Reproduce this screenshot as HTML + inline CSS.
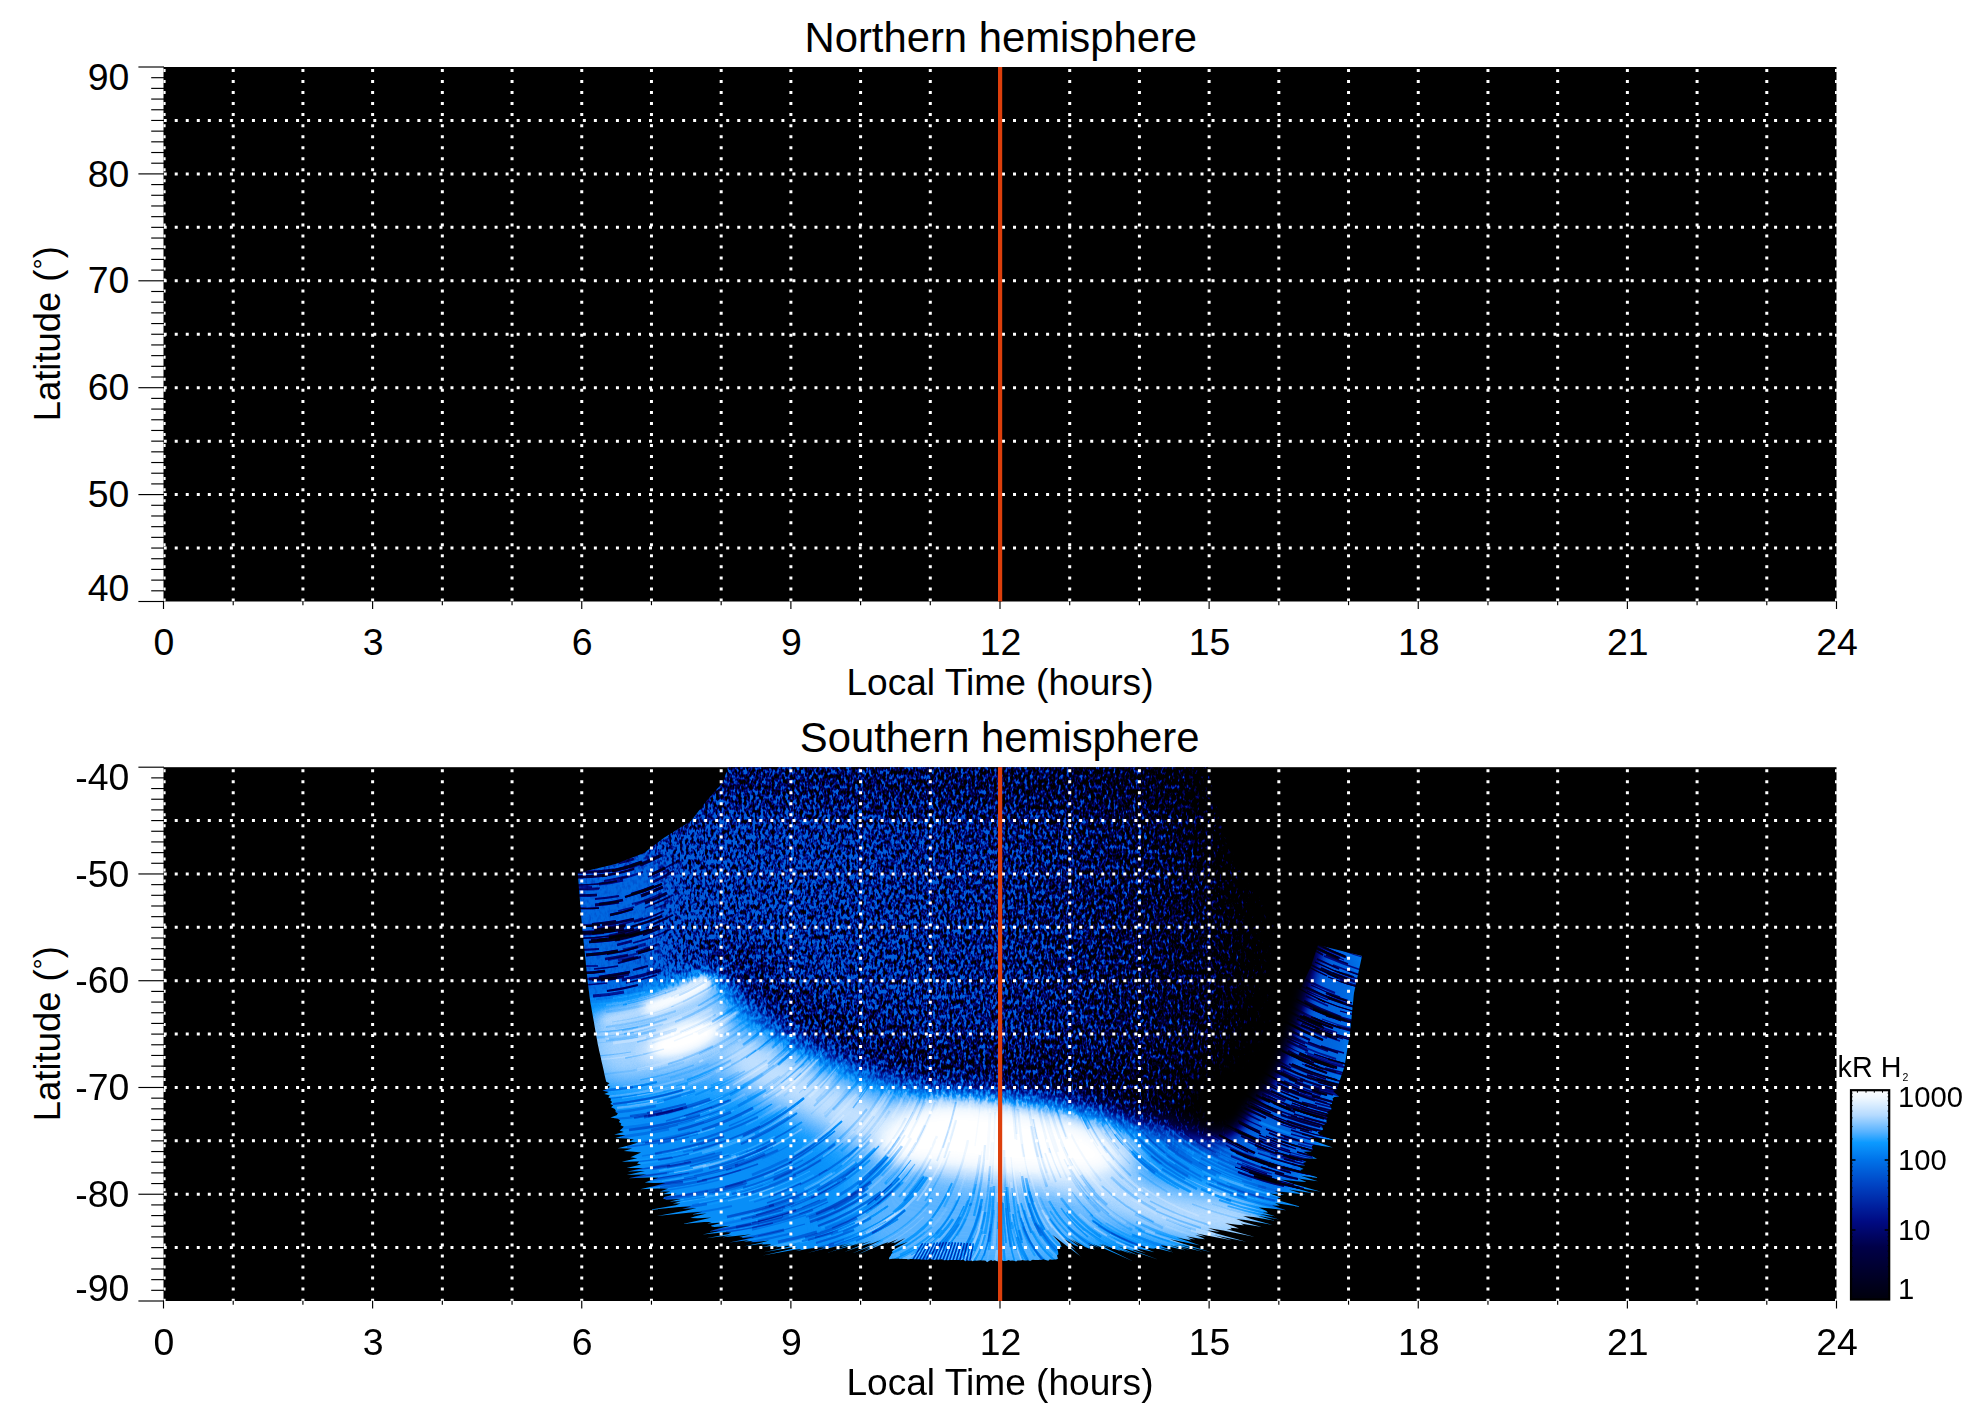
<!DOCTYPE html>
<html lang="en"><head><meta charset="utf-8"><title>Northern / Southern hemisphere</title>
<style>html,body{margin:0;padding:0;background:#fff}body{width:1983px;height:1423px;overflow:hidden}svg{display:block}text{font-family:"Liberation Sans", Arial, Helvetica, sans-serif;fill:#000}</style>
</head><body>
<svg width="1983" height="1423" viewBox="0 0 1983 1423">
<defs>
<linearGradient id="cbar" x1="0" y1="0" x2="0" y2="1">
<stop offset="0" stop-color="#ffffff"/><stop offset="0.04" stop-color="#eef7ff"/><stop offset="0.12" stop-color="#b4daff"/>
<stop offset="0.2" stop-color="#56b2ff"/><stop offset="0.25" stop-color="#0c9aff"/><stop offset="0.33" stop-color="#0074ea"/>
<stop offset="0.45" stop-color="#0044c4"/><stop offset="0.55" stop-color="#0022a0"/><stop offset="0.63" stop-color="#000a82"/>
<stop offset="0.75" stop-color="#000048"/><stop offset="1" stop-color="#00000c"/></linearGradient>
<filter id="cmap" filterUnits="userSpaceOnUse" x="560" y="760" width="820" height="520" color-interpolation-filters="sRGB">
<feComponentTransfer><feFuncR type="table" tableValues="0.000 0.000 0.000 0.000 0.000 0.000 0.000 0.000 0.000 0.000 0.000 0.000 0.000 0.000 0.000 0.000 0.000 0.000 0.000 0.000 0.000 0.000 0.000 0.000 0.000 0.000 0.000 0.000 0.000 0.000 0.000 0.000 0.000 0.000 0.006 0.018 0.029 0.041 0.105 0.221 0.337 0.429 0.522 0.614 0.706 0.763 0.820 0.876 0.933 0.967 1.000"/><feFuncG type="table" tableValues="0.000 0.000 0.000 0.000 0.000 0.000 0.000 0.000 0.000 0.000 0.000 0.000 0.000 0.003 0.010 0.016 0.023 0.029 0.036 0.051 0.075 0.098 0.122 0.147 0.173 0.200 0.227 0.253 0.282 0.314 0.345 0.376 0.408 0.439 0.474 0.511 0.548 0.585 0.623 0.660 0.698 0.737 0.776 0.816 0.855 0.883 0.912 0.940 0.969 0.984 1.000"/><feFuncB type="table" tableValues="0.000 0.023 0.045 0.068 0.090 0.113 0.136 0.158 0.181 0.203 0.226 0.248 0.271 0.301 0.339 0.377 0.415 0.453 0.491 0.525 0.554 0.583 0.613 0.642 0.670 0.698 0.726 0.755 0.781 0.806 0.831 0.856 0.880 0.905 0.928 0.949 0.969 0.990 1.000 1.000 1.000 1.000 1.000 1.000 1.000 1.000 1.000 1.000 1.000 1.000 1.000"/></feComponentTransfer>
</filter>
<filter id="speckle" filterUnits="userSpaceOnUse" x="560" y="760" width="820" height="520" color-interpolation-filters="sRGB">
<feTurbulence type="fractalNoise" baseFrequency="0.36 0.2" numOctaves="2" seed="11" result="t"/>
<feColorMatrix in="t" type="matrix" values="0 0 0 1 0  0 0 0 1 0  0 0 0 1 0  0 0 0 0 1" result="n"/>
<feComposite in="n" in2="SourceGraphic" operator="arithmetic" k1="0" k2="3.0" k3="1.6" k4="-2.22" result="thr"/>
<feComponentTransfer in="thr"><feFuncR type="linear" slope="0.625"/><feFuncG type="linear" slope="0.625"/><feFuncB type="linear" slope="0.625"/></feComponentTransfer>
</filter>
<filter id="b4" filterUnits="userSpaceOnUse" x="460" y="660" width="1020" height="720" color-interpolation-filters="sRGB"><feGaussianBlur stdDeviation="4"/></filter>
<filter id="b8" filterUnits="userSpaceOnUse" x="460" y="660" width="1020" height="720" color-interpolation-filters="sRGB"><feGaussianBlur stdDeviation="8"/></filter>
<filter id="b12" filterUnits="userSpaceOnUse" x="460" y="660" width="1020" height="720" color-interpolation-filters="sRGB"><feGaussianBlur stdDeviation="12"/></filter>
<filter id="b18" filterUnits="userSpaceOnUse" x="460" y="660" width="1020" height="720" color-interpolation-filters="sRGB"><feGaussianBlur stdDeviation="18"/></filter>
<filter id="b25" filterUnits="userSpaceOnUse" x="460" y="660" width="1020" height="720" color-interpolation-filters="sRGB"><feGaussianBlur stdDeviation="25"/></filter>
<clipPath id="fp"><path d="M577.7 873.0L615.5 864.0L644.0 853.0L664.0 837.7L691.0 821.0L704.0 804.0L723.0 782.0L728.0 767.2L1208.0 767.2L1220.0 821.0L1240.0 871.0L1257.0 893.0L1277.0 926.0L1288.0 960.0L1300.0 990.0L1311.0 966.0L1318.0 945.0L1362.0 956.0L1361.2 959.7L1360.4 963.4L1359.6 967.1L1358.8 970.8L1358.0 974.5L1357.2 978.2L1356.4 981.9L1355.6 985.6L1354.8 989.3L1354.0 993.0L1353.6 996.6L1353.3 1000.3L1352.9 1003.9L1352.5 1007.5L1352.2 1011.2L1351.8 1014.8L1351.5 1018.5L1351.1 1022.1L1350.7 1025.7L1350.4 1029.4L1350.0 1033.0L1349.4 1036.7L1348.8 1040.3L1348.2 1044.0L1347.6 1047.7L1347.0 1051.3L1346.4 1055.0L1345.8 1058.7L1345.2 1062.3L1344.6 1066.0L1343.5 1069.5L1342.3 1072.9L1341.2 1076.3L1340.0 1079.8L1338.9 1083.2L1337.8 1086.7L1336.9 1088.3L1336.6 1090.1L1333.2 1091.1L1335.5 1093.6L1339.3 1096.4L1334.4 1097.0L1332.5 1098.4L1333.2 1100.4L1331.9 1102.0L1332.1 1103.9L1329.4 1105.1L1331.0 1107.3L1331.6 1109.3L1329.8 1110.7L1327.0 1111.9L1328.7 1114.2L1325.6 1115.3L1327.5 1117.6L1326.8 1119.3L1326.4 1121.0L1326.7 1123.0L1324.6 1124.4L1321.4 1125.5L1322.7 1127.8L1322.9 1129.7L1320.9 1131.2L1317.6 1132.3L1319.1 1134.5L1335.5 1140.5L1317.3 1137.9L1308.9 1137.8L1315.4 1141.3L1332.7 1147.4L1313.6 1144.7L1311.9 1146.2L1312.2 1148.2L1313.0 1150.3L1310.8 1151.6L1303.4 1151.8L1309.3 1155.1L1317.1 1158.8L1307.9 1158.5L1301.3 1158.9L1306.5 1162.0L1303.0 1163.1L1305.1 1165.4L1296.3 1165.3L1303.6 1168.9L1300.1 1170.0L1302.2 1172.3L1319.3 1178.1L1300.8 1175.8L1317.9 1181.2L1298.4 1178.5L1306.6 1182.0L1296.0 1181.3L1280.8 1179.5L1293.6 1184.0L1321.1 1191.8L1291.2 1186.8L1314.0 1193.5L1288.8 1189.5L1305.3 1194.8L1286.4 1192.3L1274.7 1191.3L1284.0 1195.0L1269.9 1193.6L1281.0 1197.6L1277.9 1198.6L1278.0 1200.3L1301.5 1207.1L1275.0 1202.9L1280.0 1205.7L1272.0 1205.5L1286.1 1210.3L1269.0 1208.2L1258.7 1207.6L1266.0 1210.8L1268.1 1212.4L1262.9 1212.4L1275.2 1216.2L1259.7 1214.0L1279.2 1219.4L1256.6 1215.6L1274.9 1220.8L1253.4 1217.1L1243.1 1216.0L1250.3 1218.7L1272.9 1225.0L1247.1 1220.3L1236.2 1219.0L1244.0 1221.9L1261.8 1227.1L1240.6 1223.4L1244.1 1225.3L1237.1 1224.8L1225.1 1223.2L1233.7 1226.3L1239.0 1228.6L1230.2 1227.7L1231.9 1229.3L1226.8 1229.2L1254.9 1237.0L1223.3 1230.6L1208.0 1228.1L1219.9 1232.1L1207.3 1230.2L1216.4 1233.5L1246.2 1241.8L1213.0 1235.0L1232.7 1240.6L1209.5 1235.9L1196.4 1233.6L1205.9 1236.8L1195.3 1235.1L1202.3 1237.7L1205.0 1239.3L1198.8 1238.6L1186.0 1236.2L1195.2 1239.5L1188.1 1238.6L1191.7 1240.4L1176.5 1237.4L1188.2 1241.3L1200.3 1245.4L1184.6 1242.2L1169.9 1239.2L1181.0 1243.1L1211.3 1252.2L1177.5 1244.0L1202.6 1251.7L1173.7 1244.7L1190.4 1250.1L1170.0 1245.3L1185.6 1250.6L1166.2 1246.0L1160.8 1245.3L1162.4 1246.6L1172.5 1250.4L1158.7 1247.2L1173.5 1252.6L1154.9 1247.9L1154.5 1248.7L1151.1 1248.5L1136.2 1244.8L1147.3 1249.2L1154.4 1252.3L1143.6 1249.8L1136.5 1248.5L1139.8 1250.5L1146.0 1253.0L1136.2 1250.3L1133.1 1249.8L1132.5 1250.1L1159.2 1260.0L1128.9 1249.8L1117.6 1246.3L1125.2 1249.6L1140.2 1255.9L1121.6 1249.4L1132.4 1254.3L1117.9 1249.2L1121.2 1251.2L1114.3 1249.0L1100.2 1243.6L1110.7 1248.7L1098.6 1244.1L1107.0 1248.5L1133.6 1261.6L1103.4 1248.3L1093.4 1244.2L1099.7 1248.1L1087.9 1242.9L1096.1 1247.8L1088.1 1244.5L1092.4 1247.6L1094.6 1249.7L1088.8 1247.4L1090.1 1248.9L1085.2 1246.9L1071.1 1239.0L1081.6 1246.3L1067.7 1238.2L1078.0 1245.8L1078.2 1246.8L1074.4 1245.2L1064.1 1238.7L1070.8 1244.7L1075.6 1249.5L1067.2 1244.1L1080.7 1256.5L1063.6 1243.5L1052.1 1234.7L1060.0 1243.0L1061.6 1247.0L1059.0 1247.2L1057.0 1247.9L1058.0 1251.3L1058.4 1254.2L1057.0 1255.4L1058.0 1258.7L1056.0 1259.6L1054.2 1259.6L1052.5 1259.7L1050.3 1259.4L1049.0 1259.8L1048.5 1260.8L1045.5 1259.9L1043.1 1259.3L1042.0 1259.9L1040.0 1259.8L1038.5 1260.0L1036.6 1260.0L1035.0 1260.1L1032.8 1259.7L1031.5 1260.2L1030.2 1260.9L1028.0 1260.3L1026.4 1260.5L1024.5 1260.4L1022.5 1260.0L1021.0 1260.5L1019.2 1260.4L1017.5 1260.6L1016.1 1261.4L1014.0 1260.7L1012.1 1260.4L1010.5 1260.7L1008.5 1260.0L1007.0 1260.8L1005.3 1260.9L1003.5 1260.9L1001.7 1260.3L1000.0 1261.0L998.2 1261.5L996.4 1260.9L994.7 1260.3L992.8 1260.9L991.2 1260.1L989.3 1260.8L987.0 1262.3L985.7 1260.7L984.0 1260.4L982.1 1260.6L980.5 1260.2L978.5 1260.6L976.6 1260.8L974.9 1260.5L972.7 1261.2L971.4 1260.4L969.1 1261.0L967.8 1260.3L965.2 1261.3L964.2 1260.3L962.7 1259.8L960.6 1260.2L958.9 1260.1L957.0 1260.1L955.4 1259.9L953.5 1260.0L951.5 1260.1L949.9 1260.0L947.8 1260.2L946.3 1259.9L944.0 1260.2L942.7 1259.8L941.6 1259.3L939.1 1259.7L937.5 1259.6L935.5 1259.7L933.0 1260.1L932.0 1259.6L930.9 1259.1L928.4 1259.5L925.7 1260.0L924.8 1259.4L922.3 1259.8L921.2 1259.4L919.6 1259.3L917.6 1259.3L915.9 1259.3L914.1 1259.2L912.7 1259.0L910.5 1259.1L907.8 1259.5L906.9 1259.1L905.0 1259.1L903.3 1259.0L902.0 1258.8L899.7 1258.9L898.8 1258.6L896.2 1258.8L894.6 1258.7L892.6 1258.8L889.1 1259.3L889.0 1258.7L889.2 1257.4L890.8 1255.6L891.2 1254.2L892.6 1252.4L891.8 1251.6L894.4 1249.3L908.1 1241.8L896.2 1246.1L889.9 1248.2L898.0 1243.0L905.3 1238.1L894.2 1243.2L894.4 1242.3L890.4 1243.5L898.1 1238.9L886.6 1243.7L888.8 1241.9L882.8 1244.0L856.6 1255.1L879.0 1244.2L863.1 1250.4L875.2 1244.4L852.1 1253.4L871.4 1244.7L881.9 1239.8L867.6 1244.9L871.7 1242.7L863.8 1245.2L844.2 1251.9L860.0 1245.4L871.4 1240.8L856.4 1245.7L864.5 1242.4L852.9 1245.9L863.7 1241.9L849.3 1246.2L827.5 1252.8L845.8 1246.5L852.6 1243.9L842.2 1246.8L841.5 1246.6L838.7 1247.0L850.7 1243.1L835.1 1247.3L845.4 1244.0L831.6 1247.6L826.6 1248.6L828.0 1247.8L807.5 1252.9L824.5 1248.1L827.4 1247.0L820.9 1248.4L824.7 1247.1L817.4 1248.6L829.2 1245.5L813.8 1248.9L824.6 1246.1L810.3 1249.2L819.9 1246.8L806.7 1249.5L814.6 1247.5L803.2 1249.7L795.3 1251.2L799.6 1250.0L801.8 1248.9L796.0 1249.4L762.8 1255.4L792.3 1248.7L797.5 1247.0L788.7 1248.1L763.7 1252.3L785.1 1247.5L796.1 1244.7L781.5 1246.8L775.7 1247.2L777.8 1246.2L771.0 1246.8L774.2 1245.5L761.4 1247.2L770.6 1244.9L770.5 1244.3L767.0 1244.3L761.4 1244.6L763.3 1243.6L743.3 1246.5L759.7 1243.0L769.4 1240.5L756.2 1242.0L750.4 1242.2L752.8 1241.0L743.9 1241.7L749.3 1240.0L729.1 1242.6L745.9 1239.0L755.2 1236.7L742.4 1238.0L742.3 1237.2L739.0 1237.0L751.3 1234.2L735.5 1236.0L722.4 1237.3L732.1 1235.0L706.2 1238.3L728.6 1234.0L731.1 1232.5L725.1 1232.3L702.6 1234.6L721.6 1230.5L708.7 1231.4L718.1 1228.8L730.4 1225.8L714.5 1227.1L711.7 1226.4L711.0 1225.4L723.0 1222.4L707.5 1223.6L711.7 1221.9L704.0 1221.9L682.7 1223.9L700.9 1220.1L711.5 1217.4L697.8 1218.2L690.2 1218.1L694.6 1216.4L706.7 1213.5L691.5 1214.5L702.5 1211.8L688.4 1212.7L656.9 1215.9L685.2 1210.8L696.5 1208.1L682.1 1209.0L691.4 1206.5L679.0 1207.1L648.4 1210.1L675.9 1205.2L680.4 1203.5L672.8 1203.4L680.7 1201.2L669.6 1201.5L680.9 1199.0L666.5 1199.7L662.9 1198.6L664.3 1196.9L676.8 1193.8L662.0 1194.2L670.3 1191.6L659.8 1191.4L668.0 1188.8L657.6 1188.6L640.1 1189.2L655.4 1185.8L665.4 1183.1L653.2 1183.0L644.8 1182.5L650.9 1180.3L658.4 1177.8L648.7 1177.5L628.5 1178.2L646.8 1174.3L626.8 1174.9L644.9 1171.1L627.6 1171.4L643.0 1167.9L626.6 1168.1L641.1 1164.6L637.0 1163.4L639.2 1161.4L621.6 1161.7L637.3 1158.2L630.5 1157.3L635.4 1155.0L641.1 1152.6L633.7 1151.7L623.8 1151.1L632.1 1148.4L617.8 1148.2L630.4 1145.1L637.9 1142.6L628.8 1141.8L633.9 1139.5L627.1 1138.5L615.3 1138.0L625.4 1135.2L614.2 1134.6L623.8 1131.9L619.6 1130.6L622.1 1128.6L623.8 1126.7L620.5 1125.3L621.3 1123.5L618.8 1122.0L620.1 1120.2L617.7 1118.7L610.5 1117.6L616.6 1115.3L617.9 1113.5L615.5 1112.0L615.7 1110.3L614.4 1108.7L611.1 1107.3L613.2 1105.3L610.3 1103.9L612.1 1102.0L610.4 1100.5L611.0 1098.7L608.2 1097.2L609.9 1095.4L604.3 1094.1L608.8 1092.0L602.5 1090.8L607.7 1088.7L610.0 1086.8L606.9 1085.3L609.5 1083.3L606.2 1081.8L605.4 1078.4L604.6 1074.9L603.9 1071.5L603.1 1068.1L602.3 1064.6L601.5 1061.2L600.8 1057.8L600.0 1054.3L599.2 1050.9L598.5 1047.4L597.7 1044.0L597.1 1040.3L596.4 1036.7L595.8 1033.0L595.1 1029.3L594.5 1025.7L593.9 1022.0L593.2 1018.3L592.6 1014.7L591.9 1011.0L591.3 1007.3L590.6 1003.7L590.0 1000.0L589.5 996.4L589.1 992.8L588.6 989.2L588.2 985.6L587.7 982.0L587.3 978.5L587.0 975.0L586.6 971.5L586.3 968.0L585.9 964.5L585.6 961.0L585.2 957.5L584.9 954.0L584.5 950.5L584.1 947.0L583.8 943.5L583.4 940.0L583.1 936.5L582.7 933.0L582.4 929.5L582.0 926.0L581.7 922.5L581.4 918.9L581.1 915.4L580.9 911.9L580.6 908.3L580.3 904.8L580.0 901.3L579.7 897.7L579.4 894.2L579.1 890.7L578.8 887.1L578.6 883.6L578.3 880.1L578.0 876.5L577.7 873.0Z"/></clipPath>
<linearGradient id="cov" gradientUnits="userSpaceOnUse" x1="580" y1="0" x2="1300" y2="0">
<stop offset="0" stop-color="#f2f2f2"/><stop offset="0.3" stop-color="#e4e4e4"/><stop offset="0.58" stop-color="#cecece"/><stop offset="0.72" stop-color="#b2b2b2"/>
<stop offset="0.86" stop-color="#8a8a8a"/><stop offset="1" stop-color="#606060"/></linearGradient>
</defs>

<rect x="0" y="0" width="1983" height="1423" fill="#fff"/>
<text x="1000.8" y="51.5" font-size="41.8" text-anchor="middle">Northern hemisphere</text>
<text x="999.7" y="752" font-size="41.8" text-anchor="middle">Southern hemisphere</text>
<rect x="163.5" y="67.0" width="1673.0" height="534.5" fill="#000"/>
<clipPath id="cn"><rect x="163.5" y="67.0" width="1673.4" height="534.5"/></clipPath>
<g clip-path="url(#cn)" stroke="#fff" stroke-width="3" stroke-dasharray="3 8.03" fill="none">
<path d="M163.70 120.45H1838.5"/>
<path d="M163.70 173.90H1838.5"/>
<path d="M163.70 227.35H1838.5"/>
<path d="M163.70 280.80H1838.5"/>
<path d="M163.70 334.25H1838.5"/>
<path d="M163.70 387.70H1838.5"/>
<path d="M163.70 441.15H1838.5"/>
<path d="M163.70 494.60H1838.5"/>
<path d="M163.70 548.05H1838.5"/>
<path d="M164.10 69.00V603.5"/>
<path d="M233.21 69.00V603.5"/>
<path d="M302.92 69.00V603.5"/>
<path d="M372.62 69.00V603.5"/>
<path d="M442.33 69.00V603.5"/>
<path d="M512.04 69.00V603.5"/>
<path d="M581.75 69.00V603.5"/>
<path d="M651.46 69.00V603.5"/>
<path d="M721.17 69.00V603.5"/>
<path d="M790.88 69.00V603.5"/>
<path d="M860.58 69.00V603.5"/>
<path d="M930.29 69.00V603.5"/>
<path d="M1069.71 69.00V603.5"/>
<path d="M1139.42 69.00V603.5"/>
<path d="M1209.12 69.00V603.5"/>
<path d="M1278.83 69.00V603.5"/>
<path d="M1348.54 69.00V603.5"/>
<path d="M1418.25 69.00V603.5"/>
<path d="M1487.96 69.00V603.5"/>
<path d="M1557.67 69.00V603.5"/>
<path d="M1627.38 69.00V603.5"/>
<path d="M1697.08 69.00V603.5"/>
<path d="M1766.79 69.00V603.5"/>
<path d="M1836.50 69.00V603.5"/>
</g>
<rect x="998" y="67.0" width="4.2" height="534.5" fill="#dd3f0c"/>
<g stroke="#000" stroke-width="1.15" fill="none">
<path d="M138.4 67.00H164.0"/>
<path d="M151.2 77.69H164.0"/>
<path d="M151.2 88.38H164.0"/>
<path d="M151.2 99.07H164.0"/>
<path d="M151.2 109.76H164.0"/>
<path d="M151.2 120.45H164.0"/>
<path d="M151.2 131.14H164.0"/>
<path d="M151.2 141.83H164.0"/>
<path d="M151.2 152.52H164.0"/>
<path d="M151.2 163.21H164.0"/>
<path d="M138.4 173.90H164.0"/>
<path d="M151.2 184.59H164.0"/>
<path d="M151.2 195.28H164.0"/>
<path d="M151.2 205.97H164.0"/>
<path d="M151.2 216.66H164.0"/>
<path d="M151.2 227.35H164.0"/>
<path d="M151.2 238.04H164.0"/>
<path d="M151.2 248.73H164.0"/>
<path d="M151.2 259.42H164.0"/>
<path d="M151.2 270.11H164.0"/>
<path d="M138.4 280.80H164.0"/>
<path d="M151.2 291.49H164.0"/>
<path d="M151.2 302.18H164.0"/>
<path d="M151.2 312.87H164.0"/>
<path d="M151.2 323.56H164.0"/>
<path d="M151.2 334.25H164.0"/>
<path d="M151.2 344.94H164.0"/>
<path d="M151.2 355.63H164.0"/>
<path d="M151.2 366.32H164.0"/>
<path d="M151.2 377.01H164.0"/>
<path d="M138.4 387.70H164.0"/>
<path d="M151.2 398.39H164.0"/>
<path d="M151.2 409.08H164.0"/>
<path d="M151.2 419.77H164.0"/>
<path d="M151.2 430.46H164.0"/>
<path d="M151.2 441.15H164.0"/>
<path d="M151.2 451.84H164.0"/>
<path d="M151.2 462.53H164.0"/>
<path d="M151.2 473.22H164.0"/>
<path d="M151.2 483.91H164.0"/>
<path d="M138.4 494.60H164.0"/>
<path d="M151.2 505.29H164.0"/>
<path d="M151.2 515.98H164.0"/>
<path d="M151.2 526.67H164.0"/>
<path d="M151.2 537.36H164.0"/>
<path d="M151.2 548.05H164.0"/>
<path d="M151.2 558.74H164.0"/>
<path d="M151.2 569.43H164.0"/>
<path d="M151.2 580.12H164.0"/>
<path d="M151.2 590.81H164.0"/>
<path d="M138.4 601.50H164.0"/>
<path d="M163.50 601.20V609.00"/>
<path d="M233.21 601.20V605.20"/>
<path d="M302.92 601.20V605.20"/>
<path d="M372.62 601.20V609.00"/>
<path d="M442.33 601.20V605.20"/>
<path d="M512.04 601.20V605.20"/>
<path d="M581.75 601.20V609.00"/>
<path d="M651.46 601.20V605.20"/>
<path d="M721.17 601.20V605.20"/>
<path d="M790.88 601.20V609.00"/>
<path d="M860.58 601.20V605.20"/>
<path d="M930.29 601.20V605.20"/>
<path d="M1000.00 601.20V609.00"/>
<path d="M1069.71 601.20V605.20"/>
<path d="M1139.42 601.20V605.20"/>
<path d="M1209.12 601.20V609.00"/>
<path d="M1278.83 601.20V605.20"/>
<path d="M1348.54 601.20V605.20"/>
<path d="M1418.25 601.20V609.00"/>
<path d="M1487.96 601.20V605.20"/>
<path d="M1557.67 601.20V605.20"/>
<path d="M1627.38 601.20V609.00"/>
<path d="M1697.08 601.20V605.20"/>
<path d="M1766.79 601.20V605.20"/>
<path d="M1836.50 601.20V609.00"/>
</g>
<text x="129.3" y="89.50" font-size="37.4" text-anchor="end">90</text>
<text x="129.3" y="186.50" font-size="37.4" text-anchor="end">80</text>
<text x="129.3" y="293.40" font-size="37.4" text-anchor="end">70</text>
<text x="129.3" y="400.30" font-size="37.4" text-anchor="end">60</text>
<text x="129.3" y="507.20" font-size="37.4" text-anchor="end">50</text>
<text x="129.3" y="601.10" font-size="37.4" text-anchor="end">40</text>
<text x="164.00" y="654.90" font-size="37.4" text-anchor="middle">0</text>
<text x="373.12" y="654.90" font-size="37.4" text-anchor="middle">3</text>
<text x="582.25" y="654.90" font-size="37.4" text-anchor="middle">6</text>
<text x="791.38" y="654.90" font-size="37.4" text-anchor="middle">9</text>
<text x="1000.50" y="654.90" font-size="37.4" text-anchor="middle">12</text>
<text x="1209.62" y="654.90" font-size="37.4" text-anchor="middle">15</text>
<text x="1418.75" y="654.90" font-size="37.4" text-anchor="middle">18</text>
<text x="1627.88" y="654.90" font-size="37.4" text-anchor="middle">21</text>
<text x="1837.00" y="654.90" font-size="37.4" text-anchor="middle">24</text>
<text x="1000" y="695.10" font-size="37.1" text-anchor="middle">Local Time (hours)</text>
<text transform="translate(59.5 333.75) rotate(-90)" font-size="36.4" text-anchor="middle">Latitude (<tspan font-size="28" dy="-6.5">&#176;</tspan><tspan dy="6.5">)</tspan></text>
<rect x="163.5" y="767.2" width="1673.0" height="533.8" fill="#000"/>
<g clip-path="url(#fp)">
<g filter="url(#cmap)">
<rect x="560" y="760" width="820" height="520" fill="#000"/>
<g filter="url(#speckle)"><rect x="560" y="760" width="820" height="520" fill="url(#cov)"/>
<g filter="url(#b18)">
<path d="M560.0 880.0C570.0 856.7 600.0 875.0 620.0 870.0C640.0 865.0 666.7 845.0 680.0 850.0C693.3 855.0 698.3 881.7 700.0 900.0C701.7 918.3 698.3 943.3 690.0 960.0C681.7 976.7 671.7 991.7 650.0 1000.0C628.3 1008.3 575.0 1030.0 560.0 1010.0C545.0 990.0 550.0 903.3 560.0 880.0Z" fill="#ffffff" opacity="0.8"/>
<path d="M700 740H1300V810H700Z" fill="#000" opacity="0.18"/>
<path d="M700.0 985.0C704.9 987.1 714.0 988.4 729.5 997.5C745.0 1006.6 771.8 1027.8 793.0 1039.8C814.2 1051.8 835.4 1061.0 856.6 1069.5C877.8 1078.0 896.0 1085.0 920.0 1090.7C944.0 1096.4 975.9 1099.9 1000.6 1103.4C1025.3 1106.9 1043.0 1108.4 1068.4 1111.9C1093.8 1115.4 1131.1 1120.8 1153.0 1124.6C1174.9 1128.4 1192.2 1133.3 1200.0 1135.0" fill="none" stroke="#000" stroke-width="46" opacity="0.2" transform="translate(0 -30)"/>
</g>
<g filter="url(#b25)">
<path d="M1205.0 740.0L1213.0 821.0L1228.0 871.0L1242.0 900.0L1256.0 940.0L1256.0 1000.0L1240.0 1050.0L1218.0 1085.0L1195.0 1115.0L1170.0 1140.0L1420.0 1140.0L1420.0 740.0Z" fill="#000"/>
</g>
</g>
<g filter="url(#b12)">
<path d="M560.0 1000.0C566.7 998.7 585.0 994.5 600.0 992.0C615.0 989.5 632.3 987.3 650.0 985.0C667.7 982.7 692.8 975.9 706.0 978.0C719.2 980.1 715.0 987.2 729.5 997.5C744.0 1007.8 771.8 1027.8 793.0 1039.8C814.2 1051.8 835.4 1061.0 856.6 1069.5C877.8 1078.0 896.0 1085.0 920.0 1090.7C944.0 1096.4 975.9 1099.9 1000.6 1103.4C1025.3 1106.9 1043.0 1108.4 1068.4 1111.9C1093.8 1115.4 1131.8 1120.4 1153.0 1124.6C1174.2 1128.8 1181.3 1134.9 1195.5 1137.0C1209.7 1139.1 1226.8 1140.2 1237.9 1137.0C1249.0 1133.8 1255.0 1125.8 1262.0 1118.0C1269.0 1110.2 1274.2 1103.0 1280.0 1090.0C1285.8 1077.0 1292.7 1055.0 1297.0 1040.0C1301.3 1025.0 1303.2 1015.0 1306.0 1000.0C1308.8 985.0 1310.0 961.7 1314.0 950.0C1318.0 938.3 1327.3 933.3 1330.0 930.0L1400 930L1400 1300L560 1300Z" fill="#b9b9b9"/>
</g>
<g filter="url(#b8)">
<path d="M1318.0 945.0C1326.4 943.4 1356.0 948.0 1362.0 956.0C1368.0 964.0 1356.0 980.2 1354.0 993.0C1352.0 1005.8 1351.6 1020.8 1350.0 1033.0C1348.4 1045.2 1347.0 1055.9 1344.6 1066.0C1342.2 1076.1 1338.5 1084.4 1335.5 1093.6C1332.5 1102.8 1330.1 1112.5 1326.4 1121.0C1322.8 1129.5 1317.9 1135.6 1313.6 1144.7C1309.3 1153.8 1308.1 1168.2 1300.8 1175.8C1293.5 1183.3 1281.8 1194.3 1270.0 1190.0C1258.2 1185.7 1234.0 1163.0 1230.0 1150.0C1226.0 1137.0 1240.9 1121.7 1246.0 1112.0C1251.1 1102.3 1255.7 1098.2 1260.6 1091.8C1265.5 1085.4 1270.6 1082.0 1275.2 1073.5C1279.8 1065.0 1283.4 1052.5 1288.0 1040.6C1292.6 1028.7 1298.6 1014.5 1302.6 1002.0C1306.5 989.5 1309.1 975.2 1311.7 965.7C1314.3 956.2 1309.6 946.6 1318.0 945.0Z" fill="#a1a1a1"/>
</g>
<g filter="url(#b18)">
<path d="M560.0 1003.0C573.3 988.7 616.7 995.2 640.0 992.0C663.3 988.8 686.5 984.7 700.0 984.0C713.5 983.3 712.5 980.8 721.0 988.0C729.5 995.2 738.0 1015.5 750.7 1027.0C763.4 1038.5 779.6 1047.6 797.3 1056.8C814.9 1066.0 839.6 1075.5 856.6 1082.2C873.6 1088.9 884.9 1094.2 899.0 1097.0C913.1 1099.8 924.4 1098.1 941.4 1099.2C958.4 1100.3 979.5 1101.3 1000.7 1103.4C1021.9 1105.5 1050.6 1107.5 1068.5 1111.9C1086.4 1116.3 1096.4 1121.7 1108.0 1130.0C1119.6 1138.3 1126.0 1152.0 1138.0 1162.0C1150.0 1172.0 1163.0 1183.0 1180.0 1190.0C1197.0 1197.0 1230.0 1196.7 1240.0 1204.0C1250.0 1211.3 1250.9 1228.3 1240.0 1234.0C1229.1 1239.7 1195.9 1239.3 1174.4 1238.0C1152.9 1236.7 1135.5 1232.3 1110.8 1226.0C1086.1 1219.7 1054.2 1206.0 1026.0 1200.0C997.8 1194.0 966.8 1194.8 941.4 1190.0C916.0 1185.2 891.3 1177.9 873.6 1171.2C855.9 1164.5 848.8 1157.8 835.4 1150.0C822.0 1142.2 810.6 1133.1 793.0 1124.6C775.4 1116.1 750.7 1105.6 729.5 1099.2C708.3 1092.8 687.2 1089.9 666.0 1086.4C644.8 1082.9 619.7 1079.4 602.0 1078.0C584.3 1076.6 567.0 1090.5 560.0 1078.0C553.0 1065.5 546.7 1017.3 560.0 1003.0Z" fill="#cccccc"/>
<path d="M850.0 1185.0C857.5 1173.0 875.0 1170.2 900.0 1168.0C925.0 1165.8 970.0 1169.7 1000.0 1172.0C1030.0 1174.3 1062.5 1174.8 1080.0 1182.0C1097.5 1189.2 1107.5 1200.3 1105.0 1215.0C1102.5 1229.7 1100.8 1260.8 1065.0 1270.0C1029.2 1279.2 925.0 1275.0 890.0 1270.0C855.0 1265.0 861.7 1254.2 855.0 1240.0C848.3 1225.8 842.5 1197.0 850.0 1185.0Z" fill="#cfcfcf" opacity="0.9"/>
</g>
<g filter="url(#b12)" fill="none" stroke-linecap="round">
<path d="M1060.0 1168.0C1070.0 1172.7 1101.7 1188.5 1120.0 1196.0C1138.3 1203.5 1150.0 1209.0 1170.0 1213.0C1190.0 1217.0 1228.3 1218.8 1240.0 1220.0" stroke="#e2e2e2" stroke-width="40"/>
</g>
<g filter="url(#b12)" fill="none" stroke-linecap="round" stroke-linejoin="round">
<path d="M745.0 1058.0C756.7 1064.2 792.5 1083.3 815.0 1095.0C837.5 1106.7 859.2 1120.5 880.0 1128.0C900.8 1135.5 920.0 1137.5 940.0 1140.0C960.0 1142.5 980.0 1141.3 1000.0 1143.0C1020.0 1144.7 1041.7 1147.2 1060.0 1150.0C1078.3 1152.8 1101.7 1158.3 1110.0 1160.0" stroke="#e6e6e6" stroke-width="42"/>
<path d="M596.0 1018.0C604.0 1005.7 630.7 1006.7 650.0 1000.0C669.3 993.3 700.0 978.0 712.0 978.0C724.0 978.0 720.3 988.8 722.0 1000.0C723.7 1011.2 727.3 1034.0 722.0 1045.0C716.7 1056.0 703.7 1060.5 690.0 1066.0C676.3 1071.5 654.7 1076.7 640.0 1078.0C625.3 1079.3 609.3 1084.0 602.0 1074.0C594.7 1064.0 588.0 1030.3 596.0 1018.0Z" fill="#dddddd"/>
<ellipse cx="1000" cy="1142" rx="140" ry="40" fill="#ededed" transform="rotate(6 1000 1142)"/>
</g>
<g filter="url(#b8)" fill="none" stroke-linecap="round" stroke-linejoin="round">
<ellipse cx="684" cy="1039" rx="44" ry="15" fill="#f0f0f0" transform="rotate(-19 684 1039)"/>
</g>
<g filter="url(#b8)" fill="none" stroke-linecap="round" stroke-linejoin="round">
<path d="M882.0 1150.0C879.2 1144.0 887.2 1131.3 895.0 1124.6C902.8 1117.9 916.6 1112.5 928.6 1109.7C940.6 1106.9 954.8 1107.2 966.8 1107.6C978.8 1108.0 988.7 1110.1 1000.7 1111.9C1012.7 1113.7 1025.4 1115.4 1038.8 1118.2C1052.2 1121.0 1069.7 1124.2 1081.0 1128.8C1092.3 1133.4 1101.3 1140.1 1106.6 1145.8C1111.9 1151.5 1115.8 1158.5 1113.0 1162.7C1110.2 1166.9 1104.2 1169.8 1089.7 1171.2C1075.2 1172.6 1047.2 1172.3 1026.0 1171.2C1004.8 1170.1 981.5 1166.6 962.5 1164.8C943.5 1163.0 925.1 1163.1 911.7 1160.6C898.3 1158.1 884.8 1156.0 882.0 1150.0Z" fill="#ffffff"/>
</g>
<g filter="url(#b4)" fill="none" stroke-linecap="round" stroke-linejoin="round">
<ellipse cx="684" cy="1038.5" rx="34" ry="12.5" fill="#ffffff" transform="rotate(-19 684 1038.5)"/>
<path d="M606 1019Q640 1011 650 1006" stroke="#e6e6e6" stroke-width="11"/>
<path d="M650 1007Q684 996 705 982" stroke="#ffffff" stroke-width="14"/>
</g>
<g filter="url(#b12)">
<path d="M570.0 868.0C577.6 845.0 603.2 864.8 615.5 862.0C627.8 859.2 635.2 849.3 644.0 851.0C652.8 852.7 665.0 858.8 668.0 872.0C671.0 885.2 665.3 911.2 662.0 930.0C658.7 948.8 658.3 973.3 648.0 985.0C637.7 996.7 613.0 997.5 600.0 1000.0C587.0 1002.5 575.0 1022.0 570.0 1000.0C565.0 978.0 562.4 891.0 570.0 868.0Z" fill="#a4a4a4" opacity="0.92"/>
</g>
<g fill="none" stroke="#000">
<path d="M861 1141Q880 1120 894 1096" stroke-width="2.6" opacity="0.04"/>
<path d="M760 1124Q774 1116 787 1107" stroke-width="2.2" opacity="0.05"/>
<path d="M869 1174Q887 1157 900 1137" stroke-width="2.4" opacity="0.05"/>
<path d="M1017 1237Q1022 1261 1042 1276" stroke-width="2.2" opacity="0.08"/>
<path d="M807 1084Q824 1068 839 1048" stroke-width="1.4" opacity="0.06"/>
<path d="M1072 1158Q1082 1176 1095 1191" stroke-width="2.3" opacity="0.03"/>
<path d="M1092 1220Q1111 1235 1133 1244" stroke-width="1.8" opacity="0.07"/>
<path d="M747 1140Q769 1130 789 1117" stroke-width="1.8" opacity="0.10"/>
<path d="M660 1188Q683 1185 707 1180" stroke-width="2.4" opacity="0.13"/>
<path d="M1328 998Q1346 1005 1366 1010" stroke-width="2.1" opacity="0.76"/>
<path d="M1033 1119Q1038 1147 1047 1173" stroke-width="2.9" opacity="0.03"/>
<path d="M752 1223Q787 1215 820 1200" stroke-width="1.3" opacity="0.18"/>
<path d="M575 1056Q603 1057 631 1052" stroke-width="1.2" opacity="0.05"/>
<path d="M626 1182Q658 1179 689 1173" stroke-width="1.2" opacity="0.16"/>
<path d="M832 1247Q855 1241 877 1230" stroke-width="1.6" opacity="0.08"/>
<path d="M1038 1225Q1048 1242 1063 1255" stroke-width="2.5" opacity="0.07"/>
<path d="M1284 1137Q1303 1143 1322 1147" stroke-width="1.7" opacity="0.40"/>
<path d="M981 1229Q988 1198 990 1166" stroke-width="2.3" opacity="0.06"/>
<path d="M769 1206Q795 1198 820 1185" stroke-width="2.4" opacity="0.13"/>
<path d="M768 1067Q783 1055 798 1040" stroke-width="1.7" opacity="0.05"/>
<path d="M943 1148Q951 1125 956 1102" stroke-width="2.1" opacity="0.06"/>
<path d="M1072 1192Q1082 1205 1093 1216" stroke-width="1.2" opacity="0.06"/>
<path d="M762 1211Q782 1206 800 1198" stroke-width="2.7" opacity="0.05"/>
<path d="M814 1106Q835 1087 852 1064" stroke-width="2.3" opacity="0.05"/>
<path d="M1299 1054Q1313 1060 1329 1065" stroke-width="2.0" opacity="0.83"/>
<path d="M1106 1223Q1137 1242 1172 1251" stroke-width="1.9" opacity="0.03"/>
<path d="M674 998Q707 983 735 961" stroke-width="2.2" opacity="0.03"/>
<path d="M804 1090Q828 1068 846 1041" stroke-width="1.9" opacity="0.07"/>
<path d="M772 1048Q784 1038 795 1026" stroke-width="2.6" opacity="0.06"/>
<path d="M911 1265Q941 1252 959 1224" stroke-width="2.2" opacity="0.06"/>
<path d="M835 1172Q854 1158 871 1140" stroke-width="2.6" opacity="0.05"/>
<path d="M1033 1119Q1037 1138 1042 1158" stroke-width="1.2" opacity="0.06"/>
<path d="M816 1214Q846 1202 871 1182" stroke-width="2.9" opacity="0.17"/>
<path d="M1218 1162Q1247 1176 1278 1184" stroke-width="2.9" opacity="0.08"/>
<path d="M1317 1079Q1336 1085 1356 1089" stroke-width="1.4" opacity="0.82"/>
<path d="M652 1169Q672 1166 691 1162" stroke-width="2.0" opacity="0.19"/>
<path d="M1076 1100Q1082 1115 1089 1129" stroke-width="3.0" opacity="0.10"/>
<path d="M768 1064Q793 1044 814 1019" stroke-width="2.1" opacity="0.07"/>
<path d="M1162 1169Q1179 1180 1197 1189" stroke-width="2.1" opacity="0.09"/>
<path d="M1193 1140Q1207 1149 1221 1156" stroke-width="1.9" opacity="0.08"/>
<path d="M1262 1094Q1280 1103 1299 1109" stroke-width="2.0" opacity="0.48"/>
<path d="M806 1217Q832 1208 856 1192" stroke-width="2.2" opacity="0.08"/>
<path d="M876 1243Q910 1228 932 1198" stroke-width="2.9" opacity="0.04"/>
<path d="M1268 1075Q1289 1086 1312 1094" stroke-width="1.4" opacity="0.82"/>
<path d="M721 1242Q753 1238 784 1230" stroke-width="2.9" opacity="0.15"/>
<path d="M894 1248Q916 1237 932 1219" stroke-width="2.9" opacity="0.07"/>
<path d="M758 1221Q777 1216 796 1210" stroke-width="2.5" opacity="0.19"/>
<path d="M663 999Q681 992 699 982" stroke-width="2.9" opacity="0.02"/>
<path d="M1088 1196Q1107 1217 1132 1230" stroke-width="2.9" opacity="0.03"/>
<path d="M596 999Q620 997 643 991" stroke-width="2.5" opacity="0.05"/>
<path d="M1080 1104Q1091 1130 1107 1153" stroke-width="1.9" opacity="0.05"/>
<path d="M1237 1163Q1252 1169 1267 1174" stroke-width="1.4" opacity="0.48"/>
<path d="M703 1069Q733 1056 758 1037" stroke-width="1.7" opacity="0.02"/>
<path d="M615 1119Q631 1118 647 1115" stroke-width="1.9" opacity="0.09"/>
<path d="M598 1043Q630 1041 661 1032" stroke-width="1.2" opacity="0.02"/>
<path d="M1005 1157Q1007 1193 1011 1229" stroke-width="2.6" opacity="0.02"/>
<path d="M1122 1106Q1140 1133 1165 1153" stroke-width="1.4" opacity="0.09"/>
<path d="M861 1123Q881 1098 895 1069" stroke-width="2.7" opacity="0.03"/>
<path d="M650 1180Q666 1178 682 1175" stroke-width="2.6" opacity="0.05"/>
<path d="M856 1241Q878 1232 898 1219" stroke-width="1.7" opacity="0.12"/>
<path d="M1237 1191Q1256 1197 1275 1201" stroke-width="2.5" opacity="0.09"/>
<path d="M890 1262Q905 1256 919 1248" stroke-width="2.7" opacity="0.09"/>
<path d="M1188 1146Q1215 1163 1245 1175" stroke-width="2.4" opacity="0.05"/>
<path d="M612 1022Q644 1018 674 1006" stroke-width="1.2" opacity="0.03"/>
<path d="M669 1216Q701 1213 732 1206" stroke-width="1.8" opacity="0.08"/>
<path d="M1024 1210Q1032 1243 1058 1263" stroke-width="2.0" opacity="0.07"/>
<path d="M837 1182Q860 1167 879 1146" stroke-width="1.2" opacity="0.14"/>
<path d="M1243 1079Q1263 1092 1285 1101" stroke-width="1.9" opacity="0.41"/>
<path d="M640 1085Q675 1078 709 1064" stroke-width="2.6" opacity="0.02"/>
<path d="M820 1232Q847 1223 871 1208" stroke-width="1.8" opacity="0.06"/>
<path d="M1205 1141Q1229 1155 1255 1165" stroke-width="2.8" opacity="0.06"/>
<path d="M1104 1107Q1122 1138 1150 1162" stroke-width="1.2" opacity="0.06"/>
<path d="M799 1093Q823 1072 842 1046" stroke-width="1.6" opacity="0.03"/>
<path d="M1050 1084Q1056 1111 1066 1137" stroke-width="1.4" opacity="0.05"/>
<path d="M1217 1183Q1247 1195 1278 1201" stroke-width="2.1" opacity="0.09"/>
<path d="M662 1183Q698 1178 732 1168" stroke-width="1.3" opacity="0.14"/>
<path d="M1333 973Q1344 977 1355 981" stroke-width="1.9" opacity="0.45"/>
<path d="M975 1146Q980 1114 982 1082" stroke-width="1.5" opacity="0.02"/>
<path d="M957 1263Q971 1249 978 1229" stroke-width="1.5" opacity="0.03"/>
<path d="M1280 1124Q1288 1127 1296 1129" stroke-width="1.2" opacity="0.54"/>
<path d="M642 1156Q674 1152 705 1143" stroke-width="1.6" opacity="0.06"/>
<path d="M1238 1172Q1261 1181 1284 1186" stroke-width="2.0" opacity="0.53"/>
<path d="M1138 1230Q1171 1244 1207 1251" stroke-width="2.2" opacity="0.03"/>
<path d="M1193 1118Q1222 1139 1255 1153" stroke-width="2.6" opacity="0.04"/>
<path d="M1230 1193Q1257 1202 1284 1208" stroke-width="2.2" opacity="0.05"/>
<path d="M729 1126Q752 1117 772 1104" stroke-width="1.4" opacity="0.10"/>
<path d="M1192 1204Q1218 1214 1245 1220" stroke-width="1.4" opacity="0.04"/>
<path d="M1134 1156Q1154 1176 1179 1189" stroke-width="1.9" opacity="0.06"/>
<path d="M1304 1022Q1326 1032 1349 1038" stroke-width="1.3" opacity="0.67"/>
<path d="M1023 1227Q1034 1259 1064 1274" stroke-width="2.9" opacity="0.06"/>
<path d="M1013 1214Q1016 1238 1028 1260" stroke-width="1.6" opacity="0.09"/>
<path d="M795 1063Q810 1049 822 1034" stroke-width="1.6" opacity="0.08"/>
<path d="M829 1244Q864 1234 894 1213" stroke-width="1.8" opacity="0.09"/>
<path d="M754 1202Q789 1192 820 1175" stroke-width="1.5" opacity="0.06"/>
<path d="M809 1218Q839 1208 865 1189" stroke-width="2.9" opacity="0.11"/>
<path d="M831 1235Q862 1225 888 1206" stroke-width="1.8" opacity="0.10"/>
<path d="M1311 985Q1325 992 1340 997" stroke-width="1.2" opacity="0.55"/>
<path d="M793 1175Q808 1168 821 1160" stroke-width="2.3" opacity="0.12"/>
<path d="M605 1099Q629 1097 653 1092" stroke-width="1.2" opacity="0.11"/>
<path d="M857 1188Q886 1166 905 1135" stroke-width="1.9" opacity="0.06"/>
<path d="M766 1094Q786 1081 804 1064" stroke-width="1.8" opacity="0.05"/>
<path d="M769 1197Q800 1187 827 1170" stroke-width="1.7" opacity="0.11"/>
<path d="M624 1034Q644 1030 663 1024" stroke-width="1.8" opacity="0.05"/>
<path d="M758 1236Q782 1231 805 1224" stroke-width="1.2" opacity="0.12"/>
<path d="M606 1027Q642 1023 676 1011" stroke-width="2.2" opacity="0.04"/>
<path d="M744 1195Q771 1187 796 1175" stroke-width="2.7" opacity="0.12"/>
<path d="M1085 1186Q1108 1214 1142 1230" stroke-width="2.5" opacity="0.03"/>
<path d="M661 1191Q692 1187 723 1179" stroke-width="1.6" opacity="0.07"/>
<path d="M736 1227Q760 1222 783 1216" stroke-width="3.0" opacity="0.12"/>
<path d="M651 1186Q667 1184 683 1182" stroke-width="2.5" opacity="0.19"/>
<path d="M1227 1183Q1253 1193 1281 1199" stroke-width="1.6" opacity="0.06"/>
<path d="M799 1214Q814 1209 828 1202" stroke-width="1.3" opacity="0.14"/>
<path d="M774 1174Q789 1168 803 1160" stroke-width="1.4" opacity="0.09"/>
<path d="M932 1218Q944 1202 952 1183" stroke-width="2.0" opacity="0.09"/>
<path d="M772 1196Q787 1190 801 1183" stroke-width="1.7" opacity="0.16"/>
<path d="M699 1054Q728 1041 753 1022" stroke-width="2.2" opacity="0.04"/>
<path d="M778 1065Q793 1052 807 1037" stroke-width="2.9" opacity="0.09"/>
<path d="M944 1207Q961 1175 968 1140" stroke-width="2.5" opacity="0.04"/>
<path d="M1217 1120Q1238 1132 1260 1142" stroke-width="1.3" opacity="0.55"/>
<path d="M710 1163Q729 1158 748 1150" stroke-width="1.4" opacity="0.07"/>
<path d="M900 1255Q918 1246 933 1233" stroke-width="2.2" opacity="0.06"/>
<path d="M690 1166Q710 1161 729 1155" stroke-width="1.3" opacity="0.17"/>
<path d="M1277 1140Q1292 1145 1308 1149" stroke-width="1.1" opacity="0.71"/>
<path d="M1212 1204Q1231 1211 1251 1215" stroke-width="1.7" opacity="0.03"/>
<path d="M1201 1189Q1216 1196 1231 1201" stroke-width="2.4" opacity="0.09"/>
<path d="M1040 1227Q1055 1252 1081 1264" stroke-width="2.0" opacity="0.06"/>
<path d="M1270 1154Q1281 1158 1293 1161" stroke-width="1.0" opacity="0.33"/>
<path d="M615 1028Q635 1026 655 1020" stroke-width="2.5" opacity="0.02"/>
<path d="M1137 1137Q1160 1160 1188 1176" stroke-width="2.9" opacity="0.09"/>
<path d="M789 1163Q813 1149 835 1131" stroke-width="1.6" opacity="0.16"/>
<path d="M1279 1121Q1293 1127 1309 1131" stroke-width="1.4" opacity="0.76"/>
<path d="M1018 1109Q1020 1133 1024 1157" stroke-width="2.7" opacity="0.04"/>
<path d="M1236 1153Q1250 1159 1265 1164" stroke-width="1.6" opacity="0.67"/>
<path d="M1302 1103Q1325 1110 1349 1115" stroke-width="1.5" opacity="0.47"/>
<path d="M867 1205Q893 1186 911 1160" stroke-width="1.3" opacity="0.15"/>
<path d="M1297 1118Q1313 1123 1328 1127" stroke-width="1.2" opacity="0.34"/>
<path d="M606 1041Q622 1040 638 1037" stroke-width="1.4" opacity="0.05"/>
<path d="M741 1219Q768 1213 794 1203" stroke-width="2.0" opacity="0.16"/>
<path d="M1281 1115Q1300 1122 1320 1127" stroke-width="2.0" opacity="0.59"/>
<path d="M944 1158Q951 1139 956 1120" stroke-width="2.5" opacity="0.06"/>
<path d="M909 1193Q922 1177 931 1159" stroke-width="1.7" opacity="0.05"/>
<path d="M1199 1162Q1231 1179 1266 1188" stroke-width="2.6" opacity="0.08"/>
<path d="M773 1180Q806 1166 835 1144" stroke-width="2.2" opacity="0.15"/>
<path d="M687 1095Q714 1086 739 1072" stroke-width="2.5" opacity="0.03"/>
<path d="M1102 1155Q1111 1168 1123 1179" stroke-width="2.1" opacity="0.03"/>
<path d="M621 1137Q645 1134 669 1129" stroke-width="3.0" opacity="0.08"/>
<path d="M1230 1186Q1245 1191 1260 1195" stroke-width="1.7" opacity="0.08"/>
<path d="M705 1192Q724 1188 743 1183" stroke-width="2.5" opacity="0.07"/>
<path d="M759 1050Q775 1038 789 1024" stroke-width="2.8" opacity="0.04"/>
<path d="M875 1200Q888 1190 899 1178" stroke-width="2.6" opacity="0.18"/>
<path d="M1049 1219Q1063 1239 1084 1252" stroke-width="2.6" opacity="0.10"/>
<path d="M1201 1158Q1225 1171 1252 1180" stroke-width="2.5" opacity="0.09"/>
<path d="M908 1138Q918 1120 925 1102" stroke-width="2.2" opacity="0.04"/>
<path d="M716 1031Q730 1023 743 1013" stroke-width="2.0" opacity="0.03"/>
<path d="M1022 1144Q1025 1163 1030 1183" stroke-width="1.4" opacity="0.03"/>
<path d="M667 1167Q695 1163 722 1155" stroke-width="2.9" opacity="0.12"/>
<path d="M1340 981Q1355 986 1371 989" stroke-width="2.1" opacity="0.53"/>
<path d="M1304 1001Q1322 1010 1341 1017" stroke-width="2.1" opacity="0.57"/>
<path d="M1281 1072Q1292 1077 1303 1082" stroke-width="1.9" opacity="0.66"/>
<path d="M941 1248Q963 1225 971 1193" stroke-width="1.8" opacity="0.07"/>
<path d="M735 1116Q764 1103 790 1083" stroke-width="1.3" opacity="0.03"/>
<path d="M1049 1148Q1054 1163 1061 1178" stroke-width="1.6" opacity="0.05"/>
<path d="M684 1116Q707 1109 729 1100" stroke-width="1.5" opacity="0.11"/>
<path d="M992 1184Q994 1148 995 1112" stroke-width="1.7" opacity="0.03"/>
<path d="M911 1255Q928 1245 942 1230" stroke-width="1.6" opacity="0.06"/>
<path d="M820 1088Q839 1068 854 1044" stroke-width="1.4" opacity="0.08"/>
<path d="M1064 1159Q1074 1181 1089 1199" stroke-width="1.5" opacity="0.05"/>
<path d="M1268 1166Q1280 1170 1291 1173" stroke-width="1.3" opacity="0.68"/>
<path d="M868 1204Q881 1195 892 1184" stroke-width="1.7" opacity="0.14"/>
<path d="M609 1113Q633 1111 656 1106" stroke-width="2.4" opacity="0.09"/>
<path d="M936 1234Q949 1219 957 1200" stroke-width="2.8" opacity="0.04"/>
<path d="M606 1032Q622 1030 638 1027" stroke-width="1.4" opacity="0.04"/>
<path d="M1300 1130Q1315 1135 1331 1138" stroke-width="1.2" opacity="0.79"/>
<path d="M1166 1219Q1180 1225 1196 1230" stroke-width="2.4" opacity="0.05"/>
<path d="M1076 1103Q1085 1125 1098 1146" stroke-width="1.4" opacity="0.04"/>
<path d="M818 1191Q850 1175 875 1148" stroke-width="2.1" opacity="0.10"/>
<path d="M973 1194Q978 1175 980 1155" stroke-width="2.7" opacity="0.05"/>
<path d="M1297 1152Q1304 1154 1312 1156" stroke-width="1.5" opacity="0.77"/>
<path d="M1291 1134Q1311 1140 1330 1144" stroke-width="1.5" opacity="0.67"/>
<path d="M1011 1076Q1013 1108 1016 1140" stroke-width="3.0" opacity="0.04"/>
<path d="M619 1145Q655 1141 690 1132" stroke-width="1.6" opacity="0.07"/>
<path d="M1249 1100Q1263 1107 1278 1113" stroke-width="1.1" opacity="0.52"/>
<path d="M816 1243Q835 1238 854 1230" stroke-width="2.3" opacity="0.15"/>
<path d="M778 1242Q798 1238 817 1232" stroke-width="3.0" opacity="0.15"/>
<path d="M720 1051Q738 1041 754 1029" stroke-width="2.5" opacity="0.03"/>
<path d="M1211 1153Q1232 1164 1255 1172" stroke-width="2.6" opacity="0.09"/>
<path d="M726 1232Q749 1229 773 1223" stroke-width="1.3" opacity="0.19"/>
<path d="M1166 1141Q1191 1161 1221 1174" stroke-width="2.9" opacity="0.07"/>
<path d="M884 1151Q897 1135 906 1118" stroke-width="2.4" opacity="0.04"/>
<path d="M1259 1178Q1278 1184 1298 1188" stroke-width="1.7" opacity="0.47"/>
<path d="M684 1162Q703 1158 722 1152" stroke-width="1.9" opacity="0.07"/>
<path d="M712 1231Q735 1228 759 1223" stroke-width="2.7" opacity="0.06"/>
<path d="M1003 1203Q1004 1223 1006 1243" stroke-width="1.9" opacity="0.08"/>
<path d="M828 1149Q850 1131 867 1109" stroke-width="2.3" opacity="0.06"/>
<path d="M738 1106Q752 1098 766 1090" stroke-width="2.6" opacity="0.06"/>
<path d="M647 1113Q666 1109 686 1104" stroke-width="2.0" opacity="0.18"/>
<path d="M1167 1156Q1183 1167 1201 1177" stroke-width="2.7" opacity="0.05"/>
<path d="M1195 1124Q1221 1142 1251 1154" stroke-width="1.5" opacity="0.09"/>
<path d="M850 1196Q881 1176 902 1146" stroke-width="3.0" opacity="0.13"/>
<path d="M825 1228Q855 1217 881 1197" stroke-width="2.9" opacity="0.09"/>
<path d="M1093 1221Q1119 1240 1150 1249" stroke-width="1.6" opacity="0.10"/>
<path d="M747 1098Q764 1088 780 1076" stroke-width="2.8" opacity="0.03"/>
<path d="M1267 1090Q1282 1097 1297 1102" stroke-width="1.2" opacity="0.58"/>
<path d="M646 1038Q661 1034 677 1029" stroke-width="2.8" opacity="0.05"/>
<path d="M651 1130Q687 1124 720 1111" stroke-width="2.6" opacity="0.13"/>
<path d="M752 1175Q770 1168 788 1159" stroke-width="2.7" opacity="0.09"/>
<path d="M709 1193Q728 1189 747 1183" stroke-width="1.7" opacity="0.15"/>
<path d="M1209 1184Q1228 1192 1247 1198" stroke-width="2.6" opacity="0.08"/>
<path d="M1129 1105Q1143 1124 1161 1140" stroke-width="1.7" opacity="0.04"/>
<path d="M743 1085Q764 1073 783 1058" stroke-width="1.5" opacity="0.02"/>
<path d="M698 1034Q716 1025 733 1014" stroke-width="2.7" opacity="0.04"/>
<path d="M810 1222Q841 1212 867 1194" stroke-width="2.4" opacity="0.18"/>
<path d="M614 1129Q634 1127 653 1124" stroke-width="2.9" opacity="0.06"/>
<path d="M964 1250Q977 1229 981 1206" stroke-width="3.0" opacity="0.05"/>
<path d="M693 1151Q728 1142 760 1126" stroke-width="1.7" opacity="0.15"/>
<path d="M1298 1144Q1310 1147 1322 1150" stroke-width="1.6" opacity="0.32"/>
<path d="M882 1176Q899 1159 911 1138" stroke-width="2.7" opacity="0.04"/>
<path d="M674 1041Q693 1034 711 1025" stroke-width="1.5" opacity="0.04"/>
<path d="M683 1152Q703 1148 722 1142" stroke-width="1.7" opacity="0.08"/>
<path d="M703 1025Q717 1017 730 1008" stroke-width="2.3" opacity="0.03"/>
<path d="M653 1200Q681 1196 708 1191" stroke-width="2.0" opacity="0.13"/>
<path d="M989 1181Q991 1161 992 1141" stroke-width="2.5" opacity="0.02"/>
<path d="M1235 1129Q1253 1138 1272 1145" stroke-width="2.0" opacity="0.32"/>
<path d="M1126 1223Q1147 1234 1170 1241" stroke-width="2.8" opacity="0.03"/>
<path d="M957 1236Q971 1212 976 1184" stroke-width="2.7" opacity="0.03"/>
<path d="M987 1160Q989 1136 990 1113" stroke-width="2.9" opacity="0.02"/>
<path d="M1231 1156Q1250 1164 1269 1170" stroke-width="2.0" opacity="0.36"/>
<path d="M1132 1235Q1154 1244 1177 1250" stroke-width="2.6" opacity="0.08"/>
<path d="M943 1251Q957 1237 966 1219" stroke-width="1.8" opacity="0.04"/>
<path d="M1219 1200Q1242 1208 1265 1213" stroke-width="1.9" opacity="0.09"/>
<path d="M1315 1103Q1326 1106 1338 1109" stroke-width="1.8" opacity="0.49"/>
<path d="M1064 1147Q1077 1177 1099 1200" stroke-width="1.3" opacity="0.03"/>
<path d="M1282 1168Q1297 1172 1313 1175" stroke-width="1.3" opacity="0.68"/>
<path d="M895 1213Q914 1197 927 1177" stroke-width="2.9" opacity="0.10"/>
<path d="M648 1116Q680 1110 710 1099" stroke-width="3.0" opacity="0.15"/>
<path d="M1111 1233Q1129 1242 1148 1249" stroke-width="2.2" opacity="0.07"/>
<path d="M1006 1208Q1007 1236 1015 1263" stroke-width="1.5" opacity="0.07"/>
<path d="M1013 1079Q1015 1107 1017 1134" stroke-width="2.7" opacity="0.03"/>
<path d="M848 1157Q860 1146 871 1134" stroke-width="1.6" opacity="0.05"/>
<path d="M1104 1146Q1116 1162 1131 1176" stroke-width="2.2" opacity="0.05"/>
<path d="M719 1225Q750 1219 781 1210" stroke-width="2.5" opacity="0.05"/>
<path d="M695 1095Q721 1085 745 1071" stroke-width="1.7" opacity="0.05"/>
<path d="M1327 973Q1338 978 1349 982" stroke-width="2.1" opacity="0.52"/>
<path d="M1132 1151Q1158 1176 1191 1192" stroke-width="2.9" opacity="0.08"/>
<path d="M784 1096Q809 1076 830 1051" stroke-width="2.5" opacity="0.02"/>
<path d="M908 1156Q921 1136 930 1114" stroke-width="1.9" opacity="0.04"/>
<path d="M1204 1146Q1236 1164 1270 1174" stroke-width="2.4" opacity="0.06"/>
<path d="M1291 1130Q1303 1134 1314 1137" stroke-width="1.4" opacity="0.57"/>
<path d="M724 1035Q745 1022 763 1006" stroke-width="2.2" opacity="0.04"/>
<path d="M1056 1109Q1061 1124 1067 1139" stroke-width="2.9" opacity="0.04"/>
<path d="M808 1240Q823 1236 838 1231" stroke-width="2.3" opacity="0.17"/>
<path d="M762 1159Q781 1151 798 1140" stroke-width="1.2" opacity="0.06"/>
<path d="M853 1108Q875 1080 891 1047" stroke-width="1.5" opacity="0.09"/>
<path d="M1139 1140Q1162 1163 1190 1178" stroke-width="2.6" opacity="0.06"/>
<path d="M1018 1211Q1022 1235 1035 1256" stroke-width="2.2" opacity="0.04"/>
<path d="M1098 1226Q1129 1245 1164 1254" stroke-width="1.7" opacity="0.05"/>
<path d="M859 1185Q875 1172 888 1157" stroke-width="1.9" opacity="0.17"/>
<path d="M825 1117Q839 1103 852 1087" stroke-width="2.5" opacity="0.03"/>
<path d="M702 1130Q729 1121 753 1108" stroke-width="2.7" opacity="0.16"/>
<path d="M730 1095Q762 1078 790 1054" stroke-width="2.6" opacity="0.06"/>
<path d="M1035 1091Q1041 1122 1050 1153" stroke-width="2.6" opacity="0.04"/>
<path d="M916 1120Q927 1095 935 1068" stroke-width="1.3" opacity="0.05"/>
<path d="M918 1249Q948 1228 961 1193" stroke-width="1.9" opacity="0.08"/>
<path d="M721 1071Q739 1062 756 1050" stroke-width="1.8" opacity="0.05"/>
<path d="M943 1251Q963 1230 971 1203" stroke-width="2.1" opacity="0.09"/>
<path d="M1029 1203Q1036 1230 1056 1251" stroke-width="2.5" opacity="0.07"/>
<path d="M629 1130Q665 1126 700 1115" stroke-width="2.6" opacity="0.18"/>
<path d="M758 1221Q777 1216 796 1210" stroke-width="1.2" opacity="0.06"/>
<path d="M712 1022Q740 1006 763 984" stroke-width="2.1" opacity="0.09"/>
<path d="M1155 1233Q1182 1243 1209 1248" stroke-width="2.2" opacity="0.07"/>
<path d="M1102 1186Q1125 1208 1154 1222" stroke-width="2.0" opacity="0.04"/>
<path d="M1018 1204Q1022 1236 1043 1261" stroke-width="1.9" opacity="0.07"/>
<path d="M1074 1104Q1085 1131 1101 1154" stroke-width="1.3" opacity="0.03"/>
<path d="M999 1248Q999 1220 999 1192" stroke-width="1.6" opacity="0.05"/>
<path d="M1045 1153Q1050 1168 1056 1182" stroke-width="2.0" opacity="0.05"/>
<path d="M1228 1206Q1255 1214 1283 1219" stroke-width="1.7" opacity="0.05"/>
<path d="M989 1250Q992 1230 994 1210" stroke-width="2.6" opacity="0.05"/>
<path d="M866 1213Q887 1200 903 1182" stroke-width="2.3" opacity="0.06"/>
<path d="M811 1114Q823 1104 834 1092" stroke-width="1.7" opacity="0.02"/>
<path d="M1180 1130Q1196 1142 1213 1152" stroke-width="1.5" opacity="0.08"/>
<path d="M1291 1036Q1309 1045 1328 1051" stroke-width="1.9" opacity="0.47"/>
<path d="M1078 1098Q1091 1131 1114 1160" stroke-width="1.5" opacity="0.05"/>
<path d="M1238 1090Q1255 1100 1273 1109" stroke-width="1.5" opacity="0.69"/>
<path d="M637 1042Q657 1038 676 1031" stroke-width="1.5" opacity="0.06"/>
<path d="M1090 1215Q1111 1233 1138 1244" stroke-width="2.5" opacity="0.03"/>
<path d="M1244 1108Q1255 1113 1266 1118" stroke-width="2.0" opacity="0.71"/>
<path d="M652 1167Q684 1162 715 1153" stroke-width="1.7" opacity="0.11"/>
<path d="M657 1102Q676 1097 695 1091" stroke-width="2.2" opacity="0.11"/>
<path d="M765 1207Q784 1202 803 1194" stroke-width="2.2" opacity="0.06"/>
<path d="M735 1166Q750 1161 765 1154" stroke-width="2.9" opacity="0.14"/>
<path d="M865 1143Q879 1128 890 1111" stroke-width="2.6" opacity="0.03"/>
<path d="M1241 1136Q1259 1145 1278 1151" stroke-width="1.5" opacity="0.67"/>
<path d="M673 1202Q689 1199 705 1197" stroke-width="1.7" opacity="0.15"/>
<path d="M754 1212Q777 1206 799 1197" stroke-width="1.5" opacity="0.09"/>
<path d="M1298 1109Q1313 1114 1329 1118" stroke-width="1.9" opacity="0.36"/>
<path d="M1297 1090Q1308 1094 1320 1097" stroke-width="2.1" opacity="0.52"/>
<path d="M1287 1121Q1310 1129 1333 1134" stroke-width="1.9" opacity="0.67"/>
<path d="M824 1114Q847 1092 865 1065" stroke-width="2.3" opacity="0.02"/>
<path d="M726 1170Q752 1162 778 1150" stroke-width="2.1" opacity="0.13"/>
<path d="M1107 1236Q1136 1250 1167 1257" stroke-width="1.5" opacity="0.09"/>
<path d="M1267 1139Q1278 1143 1289 1147" stroke-width="1.4" opacity="0.40"/>
<path d="M1007 1187Q1008 1219 1016 1250" stroke-width="2.9" opacity="0.08"/>
<path d="M752 1218Q767 1214 783 1210" stroke-width="2.1" opacity="0.11"/>
<path d="M1226 1145Q1240 1153 1255 1158" stroke-width="2.0" opacity="0.32"/>
<path d="M1108 1161Q1126 1183 1150 1198" stroke-width="1.9" opacity="0.03"/>
<path d="M1226 1199Q1249 1206 1272 1211" stroke-width="2.3" opacity="0.08"/>
<path d="M877 1204Q899 1187 915 1164" stroke-width="1.3" opacity="0.11"/>
<path d="M734 1090Q755 1079 774 1065" stroke-width="1.9" opacity="0.04"/>
<path d="M797 1104Q819 1086 837 1064" stroke-width="2.0" opacity="0.03"/>
<path d="M743 1045Q763 1031 780 1015" stroke-width="2.7" opacity="0.08"/>
<path d="M1259 1135Q1277 1143 1296 1149" stroke-width="1.1" opacity="0.67"/>
<path d="M985 1234Q990 1210 991 1187" stroke-width="2.9" opacity="0.06"/>
<path d="M893 1212Q911 1197 924 1177" stroke-width="1.6" opacity="0.07"/>
<path d="M653 1071Q669 1067 684 1062" stroke-width="2.7" opacity="0.02"/>
<path d="M1012 1188Q1014 1216 1022 1243" stroke-width="2.2" opacity="0.08"/>
<path d="M725 1187Q760 1178 792 1162" stroke-width="2.3" opacity="0.18"/>
<path d="M1033 1231Q1041 1245 1053 1256" stroke-width="1.8" opacity="0.03"/>
<path d="M1118 1118Q1136 1144 1162 1164" stroke-width="1.7" opacity="0.06"/>
<path d="M609 1039Q633 1037 656 1030" stroke-width="2.7" opacity="0.05"/>
<path d="M773 1084Q799 1065 820 1040" stroke-width="2.8" opacity="0.03"/>
<path d="M817 1190Q838 1178 857 1163" stroke-width="2.7" opacity="0.11"/>
<path d="M1320 969Q1342 979 1365 985" stroke-width="2.1" opacity="0.39"/>
<path d="M814 1251Q837 1245 860 1236" stroke-width="1.3" opacity="0.16"/>
<path d="M645 1143Q673 1139 700 1131" stroke-width="1.5" opacity="0.17"/>
<path d="M838 1196Q866 1180 887 1156" stroke-width="2.8" opacity="0.10"/>
<path d="M627 1147Q663 1143 698 1134" stroke-width="1.8" opacity="0.13"/>
<path d="M892 1147Q904 1130 913 1112" stroke-width="1.3" opacity="0.04"/>
<path d="M904 1201Q915 1189 924 1176" stroke-width="2.4" opacity="0.09"/>
<path d="M1136 1222Q1169 1238 1204 1245" stroke-width="2.6" opacity="0.06"/>
<path d="M936 1248Q951 1235 960 1217" stroke-width="2.5" opacity="0.07"/>
<path d="M652 1043Q683 1034 711 1019" stroke-width="2.2" opacity="0.04"/>
<path d="M1022 1176Q1026 1208 1041 1236" stroke-width="2.4" opacity="0.10"/>
<path d="M1061 1198Q1077 1221 1101 1237" stroke-width="2.7" opacity="0.06"/>
<path d="M885 1184Q911 1158 925 1125" stroke-width="2.7" opacity="0.05"/>
<path d="M680 1032Q698 1025 716 1015" stroke-width="2.1" opacity="0.06"/>
<path d="M857 1184Q885 1161 904 1130" stroke-width="1.5" opacity="0.05"/>
<path d="M1175 1125Q1203 1148 1236 1162" stroke-width="2.5" opacity="0.06"/>
<path d="M1175 1154Q1188 1163 1202 1171" stroke-width="1.4" opacity="0.09"/>
<path d="M817 1221Q840 1212 860 1200" stroke-width="2.5" opacity="0.07"/>
<path d="M1312 1065Q1331 1072 1350 1076" stroke-width="1.2" opacity="0.41"/>
<path d="M1292 1164Q1304 1167 1316 1170" stroke-width="1.1" opacity="0.47"/>
<path d="M687 1080Q709 1072 731 1060" stroke-width="2.1" opacity="0.05"/>
<path d="M1308 1098Q1324 1103 1339 1107" stroke-width="1.6" opacity="0.57"/>
<path d="M1021 1218Q1027 1242 1043 1260" stroke-width="1.9" opacity="0.09"/>
<path d="M1105 1120Q1113 1133 1123 1145" stroke-width="1.2" opacity="0.07"/>
<path d="M1011 1157Q1013 1185 1018 1213" stroke-width="1.3" opacity="0.03"/>
<path d="M1113 1126Q1132 1152 1158 1171" stroke-width="1.7" opacity="0.06"/>
<path d="M1026 1086Q1030 1122 1038 1157" stroke-width="2.6" opacity="0.04"/>
<path d="M605 1074Q629 1072 652 1067" stroke-width="2.1" opacity="0.02"/>
<path d="M816 1101Q842 1076 861 1045" stroke-width="2.8" opacity="0.04"/>
<path d="M926 1248Q942 1236 953 1219" stroke-width="2.7" opacity="0.08"/>
<path d="M797 1174Q822 1161 843 1143" stroke-width="1.3" opacity="0.07"/>
<path d="M937 1246Q955 1228 964 1206" stroke-width="1.2" opacity="0.09"/>
<path d="M675 1022Q705 1010 731 991" stroke-width="2.3" opacity="0.05"/>
<path d="M1168 1147Q1191 1163 1216 1175" stroke-width="2.8" opacity="0.08"/>
<path d="M743 1136Q776 1121 804 1098" stroke-width="2.4" opacity="0.17"/>
<path d="M622 1171Q646 1169 670 1165" stroke-width="1.5" opacity="0.19"/>
<path d="M1275 1173Q1287 1177 1298 1179" stroke-width="2.1" opacity="0.66"/>
<path d="M922 1260Q936 1252 948 1240" stroke-width="2.5" opacity="0.04"/>
<path d="M1096 1123Q1106 1140 1119 1155" stroke-width="2.1" opacity="0.02"/>
<path d="M1150 1201Q1178 1216 1209 1225" stroke-width="1.9" opacity="0.05"/>
<path d="M999 1248Q999 1232 999 1216" stroke-width="1.8" opacity="0.08"/>
<path d="M1068 1227Q1095 1251 1130 1261" stroke-width="2.4" opacity="0.06"/>
<path d="M891 1253Q910 1245 925 1232" stroke-width="1.7" opacity="0.03"/>
<path d="M794 1080Q821 1056 841 1026" stroke-width="1.6" opacity="0.09"/>
<path d="M818 1226Q852 1214 881 1192" stroke-width="2.2" opacity="0.18"/>
<path d="M1151 1156Q1179 1179 1213 1192" stroke-width="2.0" opacity="0.09"/>
<path d="M709 1168Q744 1159 776 1142" stroke-width="2.8" opacity="0.13"/>
<path d="M660 1198Q688 1195 715 1189" stroke-width="2.7" opacity="0.06"/>
<path d="M684 1178Q711 1173 738 1164" stroke-width="1.5" opacity="0.15"/>
<path d="M739 1155Q773 1142 802 1122" stroke-width="1.8" opacity="0.08"/>
<path d="M1071 1134Q1083 1159 1101 1181" stroke-width="2.0" opacity="0.03"/>
<path d="M737 1159Q753 1153 767 1147" stroke-width="2.5" opacity="0.09"/>
<path d="M1292 1064Q1314 1074 1337 1080" stroke-width="1.5" opacity="0.85"/>
<path d="M626 1088Q642 1086 657 1082" stroke-width="1.9" opacity="0.13"/>
<path d="M997 1250Q998 1226 998 1202" stroke-width="2.3" opacity="0.07"/>
<path d="M925 1201Q941 1178 950 1151" stroke-width="1.9" opacity="0.04"/>
<path d="M825 1193Q850 1179 870 1160" stroke-width="1.9" opacity="0.08"/>
<path d="M971 1205Q979 1178 982 1151" stroke-width="1.2" opacity="0.02"/>
<path d="M1227 1206Q1254 1214 1282 1219" stroke-width="2.0" opacity="0.04"/>
<path d="M782 1216Q805 1209 827 1199" stroke-width="2.6" opacity="0.11"/>
<path d="M699 1106Q733 1094 763 1074" stroke-width="2.8" opacity="0.03"/>
<path d="M1260 1162Q1275 1167 1290 1172" stroke-width="2.2" opacity="0.41"/>
<path d="M671 997Q693 988 713 975" stroke-width="2.3" opacity="0.03"/>
<path d="M1306 987Q1324 996 1343 1003" stroke-width="1.4" opacity="0.76"/>
<path d="M974 1251Q982 1232 985 1212" stroke-width="2.8" opacity="0.07"/>
<path d="M704 1232Q728 1229 751 1224" stroke-width="2.2" opacity="0.16"/>
<path d="M973 1275Q987 1255 990 1231" stroke-width="1.4" opacity="0.09"/>
<path d="M1306 996Q1317 1001 1328 1006" stroke-width="1.7" opacity="0.42"/>
<path d="M1286 1106Q1304 1113 1324 1118" stroke-width="2.1" opacity="0.60"/>
<path d="M703 1060Q721 1052 738 1041" stroke-width="2.4" opacity="0.04"/>
<path d="M1311 944Q1325 952 1340 958" stroke-width="1.9" opacity="0.46"/>
<path d="M758 1224Q773 1221 789 1216" stroke-width="2.1" opacity="0.08"/>
<path d="M698 1006Q715 996 732 985" stroke-width="1.9" opacity="0.06"/>
<path d="M834 1209Q852 1200 868 1188" stroke-width="2.6" opacity="0.12"/>
<path d="M1115 1134Q1132 1156 1155 1173" stroke-width="2.6" opacity="0.10"/>
<path d="M1068 1165Q1084 1194 1109 1214" stroke-width="1.6" opacity="0.06"/>
<path d="M1031 1126Q1036 1157 1047 1187" stroke-width="2.7" opacity="0.05"/>
<path d="M859 1097Q873 1078 884 1057" stroke-width="1.3" opacity="0.07"/>
<path d="M715 1190Q731 1186 746 1181" stroke-width="2.7" opacity="0.10"/>
<path d="M746 1243Q769 1239 793 1233" stroke-width="2.3" opacity="0.10"/>
<path d="M1230 1195Q1264 1206 1300 1212" stroke-width="2.2" opacity="0.09"/>
<path d="M1004 1150Q1004 1170 1005 1190" stroke-width="2.6" opacity="0.05"/>
<path d="M741 1060Q765 1045 785 1025" stroke-width="1.6" opacity="0.02"/>
<path d="M1043 1110Q1051 1145 1067 1178" stroke-width="1.9" opacity="0.03"/>
<path d="M1254 1176Q1277 1183 1300 1188" stroke-width="2.0" opacity="0.71"/>
<path d="M668 1064Q691 1057 713 1046" stroke-width="2.2" opacity="0.05"/>
<path d="M690 1142Q725 1133 758 1117" stroke-width="2.0" opacity="0.13"/>
<path d="M1338 972Q1346 974 1354 977" stroke-width="1.4" opacity="0.58"/>
<path d="M627 1003Q647 999 666 992" stroke-width="3.0" opacity="0.04"/>
<path d="M1128 1100Q1149 1130 1178 1152" stroke-width="1.6" opacity="0.05"/>
<path d="M640 1181Q672 1178 703 1170" stroke-width="2.5" opacity="0.08"/>
<path d="M1199 1148Q1223 1162 1249 1172" stroke-width="2.0" opacity="0.07"/>
<path d="M597 1033Q633 1031 667 1019" stroke-width="2.3" opacity="0.05"/>
<path d="M1302 1023Q1317 1029 1332 1035" stroke-width="1.3" opacity="0.63"/>
<path d="M658 1160Q674 1158 689 1154" stroke-width="1.6" opacity="0.19"/>
<path d="M625 1058Q644 1055 664 1049" stroke-width="1.7" opacity="0.06"/>
<path d="M658 1144Q673 1141 689 1137" stroke-width="1.5" opacity="0.12"/>
<path d="M1050 1211Q1065 1235 1090 1250" stroke-width="1.9" opacity="0.05"/>
<path d="M1145 1135Q1165 1155 1189 1169" stroke-width="2.4" opacity="0.07"/>
<path d="M954 1264Q966 1253 973 1238" stroke-width="1.3" opacity="0.06"/>
<path d="M1281 1066Q1299 1075 1318 1081" stroke-width="2.1" opacity="0.59"/>
<path d="M1311 1060Q1322 1064 1334 1068" stroke-width="1.8" opacity="0.63"/>
<path d="M1049 1201Q1065 1230 1093 1247" stroke-width="2.4" opacity="0.07"/>
<path d="M671 1007Q697 996 720 981" stroke-width="1.9" opacity="0.04"/>
<path d="M1328 977Q1347 985 1366 989" stroke-width="1.0" opacity="0.79"/>
<path d="M984 1256Q989 1240 991 1224" stroke-width="1.8" opacity="0.06"/>
<path d="M1012 1222Q1015 1242 1023 1260" stroke-width="1.8" opacity="0.08"/>
<path d="M623 1005Q651 999 677 989" stroke-width="1.7" opacity="0.05"/>
<path d="M679 995Q698 987 714 976" stroke-width="2.5" opacity="0.06"/>
<path d="M833 1110Q847 1096 859 1080" stroke-width="2.9" opacity="0.05"/>
<path d="M692 1205Q724 1200 754 1191" stroke-width="1.4" opacity="0.07"/>
<path d="M1250 1103Q1260 1108 1271 1113" stroke-width="1.2" opacity="0.73"/>
<path d="M1112 1111Q1132 1141 1160 1164" stroke-width="2.5" opacity="0.05"/>
<path d="M1048 1099Q1056 1134 1072 1166" stroke-width="3.0" opacity="0.04"/>
<path d="M686 1117Q709 1110 731 1100" stroke-width="2.1" opacity="0.15"/>
<path d="M1271 1091Q1289 1100 1308 1106" stroke-width="2.0" opacity="0.70"/>
<path d="M974 1216Q983 1181 985 1145" stroke-width="2.4" opacity="0.06"/>
<path d="M634 1118Q654 1115 673 1110" stroke-width="1.9" opacity="0.17"/>
<path d="M805 1238Q832 1231 857 1218" stroke-width="2.8" opacity="0.14"/>
<path d="M712 1232Q747 1227 782 1218" stroke-width="1.5" opacity="0.09"/>
<path d="M1040 1197Q1047 1215 1060 1231" stroke-width="2.0" opacity="0.03"/>
<path d="M640 1080Q668 1075 694 1065" stroke-width="1.6" opacity="0.04"/>
<path d="M1034 1127Q1039 1154 1049 1180" stroke-width="2.2" opacity="0.03"/>
<path d="M1005 1191Q1007 1219 1011 1247" stroke-width="3.0" opacity="0.07"/>
<path d="M727 1217Q751 1212 774 1205" stroke-width="2.8" opacity="0.18"/>
<path d="M1165 1145Q1178 1155 1192 1163" stroke-width="2.6" opacity="0.07"/>
<path d="M791 1159Q819 1143 842 1121" stroke-width="1.9" opacity="0.19"/>
<path d="M684 1199Q716 1194 746 1185" stroke-width="2.6" opacity="0.07"/>
<path d="M1285 1045Q1295 1051 1306 1055" stroke-width="1.0" opacity="0.51"/>
<path d="M1070 1175Q1082 1195 1100 1212" stroke-width="2.9" opacity="0.04"/>
<path d="M939 1247Q959 1227 968 1200" stroke-width="1.9" opacity="0.05"/>
<path d="M832 1228Q866 1215 893 1191" stroke-width="1.8" opacity="0.14"/>
<path d="M1020 1172Q1025 1204 1039 1233" stroke-width="1.6" opacity="0.03"/>
<path d="M843 1232Q857 1226 871 1218" stroke-width="2.1" opacity="0.11"/>
<path d="M1301 986Q1315 993 1330 999" stroke-width="1.2" opacity="0.55"/>
<path d="M1135 1214Q1149 1221 1163 1228" stroke-width="2.9" opacity="0.04"/>
<path d="M1300 1079Q1319 1086 1338 1091" stroke-width="2.0" opacity="0.62"/>
<path d="M1204 1129Q1228 1144 1254 1155" stroke-width="2.1" opacity="0.06"/>
<path d="M1166 1155Q1189 1172 1214 1183" stroke-width="1.2" opacity="0.06"/>
<path d="M1021 1203Q1025 1218 1031 1233" stroke-width="1.5" opacity="0.09"/>
<path d="M815 1193Q836 1183 855 1168" stroke-width="2.4" opacity="0.09"/>
<path d="M1322 950Q1333 955 1344 960" stroke-width="1.0" opacity="0.52"/>
<path d="M1105 1133Q1116 1150 1130 1164" stroke-width="1.3" opacity="0.04"/>
<path d="M827 1246Q858 1237 886 1221" stroke-width="1.6" opacity="0.15"/>
<path d="M708 1104Q726 1096 744 1087" stroke-width="1.6" opacity="0.03"/>
<path d="M606 1012Q626 1010 646 1005" stroke-width="2.6" opacity="0.03"/>
<path d="M644 1117Q664 1114 683 1108" stroke-width="2.8" opacity="0.19"/>
<path d="M1139 1173Q1155 1185 1172 1195" stroke-width="1.9" opacity="0.03"/>
<path d="M1156 1211Q1178 1221 1201 1228" stroke-width="1.9" opacity="0.06"/>
<path d="M641 1203Q673 1200 705 1194" stroke-width="2.5" opacity="0.16"/>
<path d="M1026 1178Q1031 1205 1044 1230" stroke-width="2.8" opacity="0.10"/>
<path d="M791 1207Q809 1200 827 1191" stroke-width="1.5" opacity="0.09"/>
<path d="M697 1182Q728 1175 758 1164" stroke-width="1.6" opacity="0.17"/>
<path d="M872 1233Q890 1223 905 1210" stroke-width="2.4" opacity="0.18"/>
<path d="M666 1114Q689 1108 712 1100" stroke-width="1.8" opacity="0.08"/>
<path d="M702 1180Q722 1176 741 1170" stroke-width="1.5" opacity="0.13"/>
<path d="M756 1215Q787 1207 816 1194" stroke-width="1.7" opacity="0.18"/>
<path d="M803 1251Q831 1245 857 1235" stroke-width="1.3" opacity="0.09"/>
<path d="M1204 1176Q1233 1190 1264 1198" stroke-width="2.4" opacity="0.09"/>
<path d="M856 1169Q871 1156 884 1140" stroke-width="2.0" opacity="0.03"/>
<path d="M989 1242Q993 1214 994 1186" stroke-width="2.6" opacity="0.07"/>
<path d="M624 1163Q648 1161 672 1157" stroke-width="1.3" opacity="0.10"/>
<path d="M1266 1136Q1280 1142 1296 1146" stroke-width="1.2" opacity="0.71"/>
<path d="M1081 1175Q1092 1192 1107 1205" stroke-width="2.9" opacity="0.06"/>
<path d="M746 1152Q772 1141 796 1126" stroke-width="1.5" opacity="0.07"/>
<path d="M912 1153Q926 1129 935 1102" stroke-width="2.3" opacity="0.03"/>
<path d="M1322 1019Q1337 1025 1353 1029" stroke-width="1.3" opacity="0.33"/>
<path d="M835 1149Q850 1136 863 1121" stroke-width="1.4" opacity="0.02"/>
<path d="M1217 1185Q1235 1192 1255 1198" stroke-width="1.2" opacity="0.05"/>
<path d="M960 1272Q978 1255 983 1231" stroke-width="2.0" opacity="0.04"/>
<path d="M1258 1186Q1285 1194 1313 1199" stroke-width="2.6" opacity="0.06"/>
<path d="M1000 1095Q1000 1111 1000 1127" stroke-width="2.2" opacity="0.02"/>
<path d="M1172 1124Q1193 1142 1218 1156" stroke-width="1.7" opacity="0.09"/>
<path d="M841 1151Q860 1135 874 1116" stroke-width="2.7" opacity="0.04"/>
<path d="M663 1091Q690 1083 716 1072" stroke-width="2.6" opacity="0.03"/>
<path d="M1256 1095Q1263 1099 1270 1102" stroke-width="2.2" opacity="0.84"/>
<path d="M811 1198Q829 1189 846 1178" stroke-width="1.8" opacity="0.18"/>
<path d="M885 1256Q912 1246 932 1227" stroke-width="2.1" opacity="0.06"/>
<path d="M963 1251Q977 1227 982 1199" stroke-width="2.5" opacity="0.09"/>
<path d="M1149 1145Q1173 1166 1202 1181" stroke-width="1.9" opacity="0.07"/>
<path d="M752 1228Q783 1221 813 1210" stroke-width="2.1" opacity="0.14"/>
<path d="M1321 1031Q1332 1036 1343 1039" stroke-width="1.2" opacity="0.58"/>
<path d="M1067 1212Q1088 1237 1118 1250" stroke-width="2.6" opacity="0.07"/>
<path d="M1101 1123Q1109 1137 1119 1149" stroke-width="1.6" opacity="0.06"/>
<path d="M683 1002Q701 993 718 982" stroke-width="2.2" opacity="0.03"/>
<path d="M1312 1086Q1328 1091 1343 1094" stroke-width="2.1" opacity="0.49"/>
<path d="M630 1116Q646 1114 662 1111" stroke-width="1.8" opacity="0.16"/>
<path d="M642 1143Q670 1139 697 1131" stroke-width="1.7" opacity="0.07"/>
<path d="M1225 1126Q1243 1136 1261 1144" stroke-width="1.2" opacity="0.48"/>
<path d="M1013 1193Q1015 1217 1022 1240" stroke-width="2.2" opacity="0.06"/>
<path d="M656 1115Q671 1112 687 1107" stroke-width="2.8" opacity="0.18"/>
<path d="M741 1144Q771 1132 797 1113" stroke-width="2.0" opacity="0.15"/>
<path d="M1269 1163Q1288 1169 1308 1174" stroke-width="1.8" opacity="0.80"/>
<path d="M870 1209Q886 1198 900 1183" stroke-width="2.6" opacity="0.09"/>
<path d="M720 1168Q747 1160 773 1147" stroke-width="1.5" opacity="0.13"/>
<path d="M667 1210Q687 1208 707 1204" stroke-width="2.4" opacity="0.11"/>
<path d="M1244 1185Q1263 1191 1283 1196" stroke-width="1.6" opacity="0.09"/>
<path d="M1002 1202Q1002 1238 1006 1274" stroke-width="2.2" opacity="0.07"/>
<path d="M650 1185Q674 1182 697 1178" stroke-width="2.5" opacity="0.10"/>
<path d="M1292 1025Q1303 1030 1314 1035" stroke-width="2.1" opacity="0.45"/>
<path d="M752 1230Q779 1224 806 1215" stroke-width="1.4" opacity="0.09"/>
<path d="M732 1194Q763 1186 792 1172" stroke-width="2.3" opacity="0.11"/>
<path d="M655 1154Q690 1148 724 1136" stroke-width="2.8" opacity="0.17"/>
<path d="M1289 1152Q1301 1156 1313 1158" stroke-width="1.3" opacity="0.34"/>
<path d="M1029 1191Q1038 1227 1066 1252" stroke-width="2.3" opacity="0.05"/>
<path d="M1044 1106Q1050 1129 1058 1152" stroke-width="2.8" opacity="0.03"/>
<path d="M746 1058Q772 1040 794 1017" stroke-width="1.5" opacity="0.09"/>
<path d="M621 1178Q657 1175 693 1168" stroke-width="1.6" opacity="0.17"/>
<path d="M888 1154Q910 1125 923 1091" stroke-width="2.8" opacity="0.05"/>
<path d="M1101 1185Q1124 1208 1153 1222" stroke-width="1.7" opacity="0.02"/>
<path d="M629 1178Q649 1176 669 1173" stroke-width="1.5" opacity="0.11"/>
<path d="M1234 1113Q1248 1121 1262 1127" stroke-width="1.2" opacity="0.43"/>
<path d="M711 1091Q741 1078 767 1060" stroke-width="2.0" opacity="0.04"/>
<path d="M1035 1223Q1044 1241 1059 1255" stroke-width="2.9" opacity="0.08"/>
<path d="M782 1209Q812 1199 840 1182" stroke-width="1.6" opacity="0.10"/>
<path d="M819 1175Q840 1163 858 1147" stroke-width="2.2" opacity="0.12"/>
<path d="M1111 1177Q1131 1197 1156 1210" stroke-width="2.7" opacity="0.05"/>
<path d="M1061 1208Q1072 1224 1088 1237" stroke-width="1.6" opacity="0.07"/>
<path d="M743 1188Q770 1180 795 1168" stroke-width="2.0" opacity="0.13"/>
<path d="M781 1083Q809 1061 831 1032" stroke-width="1.5" opacity="0.06"/>
<path d="M666 1121Q689 1115 712 1107" stroke-width="1.8" opacity="0.12"/>
<path d="M570 1038Q602 1039 634 1033" stroke-width="2.7" opacity="0.04"/>
<path d="M1288 1051Q1299 1057 1310 1061" stroke-width="2.1" opacity="0.65"/>
<path d="M802 1241Q830 1235 855 1223" stroke-width="1.9" opacity="0.14"/>
<path d="M665 1198Q681 1196 697 1193" stroke-width="1.8" opacity="0.08"/>
<path d="M613 1104Q649 1100 683 1090" stroke-width="2.0" opacity="0.18"/>
<path d="M767 1203Q782 1198 797 1192" stroke-width="1.5" opacity="0.15"/>
<path d="M585 1091Q609 1091 633 1087" stroke-width="2.6" opacity="0.14"/>
<path d="M678 1130Q705 1123 731 1112" stroke-width="2.8" opacity="0.18"/>
<path d="M1206 1183Q1225 1191 1244 1197" stroke-width="2.2" opacity="0.07"/>
<path d="M968 1270Q980 1255 985 1235" stroke-width="2.3" opacity="0.06"/>
<path d="M949 1128Q955 1108 959 1089" stroke-width="1.3" opacity="0.03"/>
<path d="M1193 1121Q1222 1142 1256 1155" stroke-width="1.8" opacity="0.05"/>
<path d="M1298 1059Q1316 1067 1336 1072" stroke-width="1.7" opacity="0.46"/>
<path d="M726 1112Q759 1097 787 1075" stroke-width="2.9" opacity="0.03"/>
<path d="M1242 1163Q1256 1169 1272 1174" stroke-width="1.1" opacity="0.31"/>
<path d="M937 1161Q951 1128 958 1093" stroke-width="2.0" opacity="0.05"/>
<path d="M1074 1196Q1086 1212 1102 1224" stroke-width="1.3" opacity="0.03"/>
<path d="M899 1197Q924 1170 937 1136" stroke-width="2.5" opacity="0.04"/>
<path d="M1296 937Q1317 950 1339 959" stroke-width="1.9" opacity="0.51"/>
<path d="M1231 1150Q1253 1160 1276 1167" stroke-width="1.8" opacity="0.72"/>
<path d="M1275 1071Q1286 1076 1297 1081" stroke-width="2.1" opacity="0.83"/>
<path d="M1277 1081Q1291 1087 1306 1093" stroke-width="2.1" opacity="0.49"/>
<path d="M1284 1081Q1302 1089 1321 1095" stroke-width="1.6" opacity="0.53"/>
<path d="M1267 1143Q1279 1147 1290 1151" stroke-width="1.6" opacity="0.53"/>
<path d="M1254 1176Q1265 1180 1277 1183" stroke-width="1.5" opacity="0.74"/>
<path d="M1300 1107Q1315 1112 1331 1116" stroke-width="1.2" opacity="0.42"/>
<path d="M1240 1110Q1250 1116 1261 1121" stroke-width="1.7" opacity="0.47"/>
<path d="M1249 1099Q1267 1109 1286 1116" stroke-width="1.7" opacity="0.36"/>
<path d="M1310 1008Q1332 1018 1355 1024" stroke-width="1.5" opacity="0.42"/>
<path d="M1301 1148Q1309 1150 1317 1151" stroke-width="2.1" opacity="0.54"/>
<path d="M1253 1158Q1268 1164 1283 1168" stroke-width="1.1" opacity="0.51"/>
<path d="M1238 1121Q1249 1127 1260 1132" stroke-width="2.0" opacity="0.67"/>
<path d="M1254 1139Q1272 1147 1291 1153" stroke-width="1.3" opacity="0.64"/>
<path d="M1316 1067Q1335 1073 1354 1078" stroke-width="1.5" opacity="0.38"/>
<path d="M1306 980Q1320 987 1335 993" stroke-width="2.0" opacity="0.40"/>
<path d="M1291 1145Q1303 1148 1314 1151" stroke-width="1.0" opacity="0.63"/>
<path d="M1310 1030Q1325 1036 1340 1041" stroke-width="1.8" opacity="0.40"/>
<path d="M1262 1082Q1280 1092 1299 1099" stroke-width="1.4" opacity="0.90"/>
<path d="M1290 1024Q1301 1030 1312 1035" stroke-width="1.6" opacity="0.70"/>
<path d="M1300 1016Q1311 1021 1322 1025" stroke-width="2.1" opacity="0.90"/>
<path d="M1257 1086Q1271 1094 1286 1100" stroke-width="1.3" opacity="0.50"/>
<path d="M1292 1103Q1310 1110 1330 1115" stroke-width="1.3" opacity="0.83"/>
<path d="M1301 1109Q1320 1115 1339 1119" stroke-width="1.2" opacity="0.64"/>
<path d="M1301 1025Q1316 1031 1331 1037" stroke-width="2.1" opacity="0.85"/>
<path d="M1258 1153Q1277 1160 1296 1165" stroke-width="1.4" opacity="0.39"/>
<path d="M1288 1011Q1306 1021 1324 1028" stroke-width="2.2" opacity="0.58"/>
<path d="M1297 1019Q1308 1024 1319 1029" stroke-width="1.6" opacity="0.88"/>
<path d="M1305 1003Q1316 1008 1327 1013" stroke-width="1.9" opacity="0.65"/>
<path d="M1302 1134Q1314 1137 1325 1140" stroke-width="1.3" opacity="0.66"/>
<path d="M1266 1129Q1285 1137 1304 1142" stroke-width="1.4" opacity="0.65"/>
<path d="M1289 1030Q1299 1035 1310 1040" stroke-width="2.1" opacity="0.65"/>
<path d="M1296 987Q1310 995 1325 1002" stroke-width="1.4" opacity="0.78"/>
<path d="M1272 1070Q1286 1078 1301 1084" stroke-width="1.2" opacity="0.42"/>
<path d="M1268 1099Q1279 1104 1290 1109" stroke-width="1.8" opacity="0.64"/>
<path d="M1246 1095Q1263 1105 1282 1113" stroke-width="2.2" opacity="0.63"/>
<path d="M1326 1077Q1337 1081 1349 1083" stroke-width="1.6" opacity="0.66"/>
<path d="M1322 1012Q1333 1016 1345 1020" stroke-width="2.2" opacity="0.58"/>
<path d="M1259 1138Q1270 1142 1281 1146" stroke-width="1.2" opacity="0.63"/>
<path d="M1301 1060Q1312 1065 1323 1069" stroke-width="1.5" opacity="0.57"/>
<path d="M1273 1103Q1284 1108 1295 1112" stroke-width="1.9" opacity="0.72"/>
<path d="M1246 1141Q1257 1146 1268 1150" stroke-width="1.3" opacity="0.51"/>
<path d="M1248 1106Q1266 1115 1284 1123" stroke-width="1.4" opacity="0.71"/>
<path d="M1276 1047Q1287 1053 1298 1058" stroke-width="2.0" opacity="0.50"/>
<path d="M1291 1116Q1310 1122 1329 1127" stroke-width="1.6" opacity="0.51"/>
<path d="M1255 1145Q1266 1150 1277 1154" stroke-width="2.1" opacity="0.75"/>
<path d="M1283 1167Q1294 1170 1306 1173" stroke-width="1.3" opacity="0.79"/>
<path d="M1304 1118Q1316 1121 1327 1124" stroke-width="1.6" opacity="0.52"/>
<path d="M1291 1054Q1302 1059 1314 1063" stroke-width="1.8" opacity="0.78"/>
<path d="M1305 1065Q1316 1069 1327 1073" stroke-width="1.9" opacity="0.81"/>
<path d="M1249 1172Q1264 1177 1279 1181" stroke-width="2.1" opacity="0.84"/>
<path d="M1309 947Q1316 951 1323 955" stroke-width="1.5" opacity="0.63"/>
<path d="M1335 971Q1347 976 1358 979" stroke-width="1.4" opacity="0.47"/>
<path d="M1311 1078Q1330 1085 1350 1089" stroke-width="1.2" opacity="0.89"/>
<path d="M1235 1167Q1257 1176 1281 1182" stroke-width="1.0" opacity="0.69"/>
<path d="M1291 1066Q1302 1071 1313 1075" stroke-width="1.5" opacity="0.43"/>
<path d="M1235 1130Q1246 1135 1257 1140" stroke-width="1.8" opacity="0.56"/>
<path d="M1314 1018Q1336 1028 1360 1033" stroke-width="1.8" opacity="0.58"/>
<path d="M1219 1135Q1237 1145 1255 1153" stroke-width="2.2" opacity="0.87"/>
<path d="M1317 944Q1331 951 1346 957" stroke-width="1.9" opacity="0.73"/>
<path d="M1302 1064Q1314 1069 1325 1072" stroke-width="1.0" opacity="0.48"/>
<path d="M1251 1106Q1262 1111 1273 1116" stroke-width="2.1" opacity="0.74"/>
<path d="M1325 1068Q1336 1071 1348 1074" stroke-width="1.8" opacity="0.53"/>
<path d="M1307 1075Q1330 1083 1353 1088" stroke-width="1.6" opacity="0.68"/>
<path d="M1238 1132Q1249 1137 1260 1142" stroke-width="1.4" opacity="0.86"/>
<path d="M1241 1167Q1256 1173 1272 1177" stroke-width="1.9" opacity="0.75"/>
<path d="M1273 1138Q1292 1145 1311 1150" stroke-width="1.2" opacity="0.67"/>
<path d="M1277 1030Q1291 1038 1305 1044" stroke-width="1.5" opacity="0.46"/>
<path d="M1313 1009Q1331 1017 1351 1022" stroke-width="2.1" opacity="0.85"/>
<path d="M1230 1149Q1249 1157 1268 1163" stroke-width="1.7" opacity="0.57"/>
<path d="M1307 1055Q1329 1064 1352 1069" stroke-width="2.0" opacity="0.46"/>
<path d="M1315 962Q1333 971 1352 977" stroke-width="1.2" opacity="0.87"/>
<path d="M1239 1123Q1250 1129 1261 1134" stroke-width="1.1" opacity="0.85"/>
<path d="M1295 1083Q1313 1090 1333 1095" stroke-width="1.7" opacity="0.55"/>
<path d="M1283 1155Q1291 1158 1298 1160" stroke-width="1.4" opacity="0.76"/>
<path d="M1318 1107Q1329 1110 1341 1112" stroke-width="1.5" opacity="0.46"/>
<path d="M1318 1082Q1337 1088 1357 1092" stroke-width="1.5" opacity="0.88"/>
<path d="M1294 1124Q1306 1128 1317 1131" stroke-width="1.3" opacity="0.74"/>
<path d="M1302 936Q1323 949 1345 957" stroke-width="2.1" opacity="0.47"/>
<path d="M1282 1051Q1300 1060 1319 1067" stroke-width="1.8" opacity="0.89"/>
<path d="M1311 1017Q1325 1023 1341 1028" stroke-width="1.4" opacity="0.71"/>
<path d="M1274 1118Q1292 1126 1312 1131" stroke-width="1.7" opacity="0.49"/>
<path d="M1255 1174Q1266 1178 1278 1181" stroke-width="2.2" opacity="0.48"/>
<path d="M1318 999Q1337 1007 1356 1012" stroke-width="1.1" opacity="0.88"/>
<path d="M1307 991Q1317 996 1328 1000" stroke-width="1.3" opacity="0.50"/>
<path d="M1289 1079Q1304 1085 1319 1090" stroke-width="2.1" opacity="0.56"/>
<path d="M1288 1116Q1307 1123 1326 1128" stroke-width="1.7" opacity="0.38"/>
<path d="M1300 1018Q1318 1027 1337 1033" stroke-width="1.9" opacity="0.46"/>
<path d="M1310 1087Q1325 1092 1341 1096" stroke-width="2.0" opacity="0.40"/>
<path d="M1284 1159Q1295 1162 1307 1165" stroke-width="1.6" opacity="0.58"/>
<path d="M1284 1017Q1305 1029 1327 1038" stroke-width="2.0" opacity="0.37"/>
<path d="M1314 1030Q1326 1035 1337 1039" stroke-width="1.9" opacity="0.63"/>
<path d="M1326 993Q1337 998 1348 1001" stroke-width="2.1" opacity="0.68"/>
<path d="M1312 1090Q1319 1093 1327 1095" stroke-width="2.2" opacity="0.89"/>
<path d="M1289 1090Q1307 1097 1327 1103" stroke-width="1.5" opacity="0.42"/>
<path d="M1261 1167Q1273 1171 1284 1174" stroke-width="1.7" opacity="0.76"/>
<path d="M1257 1148Q1276 1155 1295 1161" stroke-width="1.9" opacity="0.42"/>
<path d="M1280 1019Q1301 1031 1323 1040" stroke-width="2.1" opacity="0.82"/>
<path d="M1261 1071Q1274 1079 1289 1085" stroke-width="1.9" opacity="0.79"/>
<path d="M1316 948Q1327 953 1338 958" stroke-width="2.1" opacity="0.76"/>
<path d="M1308 1042Q1323 1048 1338 1053" stroke-width="1.4" opacity="0.61"/>
<path d="M1334 947Q1353 955 1372 960" stroke-width="1.0" opacity="0.44"/>
<path d="M1226 1141Q1237 1147 1248 1152" stroke-width="1.0" opacity="0.81"/>
<path d="M1326 955Q1337 960 1348 964" stroke-width="1.5" opacity="0.60"/>
<path d="M1293 1000Q1311 1009 1330 1017" stroke-width="1.5" opacity="0.42"/>
<path d="M1323 1086Q1331 1088 1339 1090" stroke-width="1.4" opacity="0.49"/>
<path d="M1326 996Q1338 1000 1349 1004" stroke-width="1.5" opacity="0.42"/>
<path d="M1340 1011Q1351 1014 1363 1017" stroke-width="1.2" opacity="0.65"/>
<path d="M1316 1029Q1327 1033 1338 1037" stroke-width="1.5" opacity="0.76"/>
<path d="M1303 1016Q1318 1023 1333 1028" stroke-width="2.1" opacity="0.86"/>
<path d="M1312 1096Q1331 1102 1350 1106" stroke-width="2.0" opacity="0.74"/>
<path d="M1348 971Q1355 974 1363 976" stroke-width="1.1" opacity="0.53"/>
<path d="M1267 1106Q1282 1112 1297 1117" stroke-width="1.4" opacity="0.57"/>
<path d="M1287 1157Q1295 1159 1302 1161" stroke-width="1.8" opacity="0.48"/>
<path d="M1299 1118Q1310 1122 1322 1125" stroke-width="1.5" opacity="0.37"/>
<path d="M1305 965Q1316 971 1327 976" stroke-width="1.3" opacity="0.80"/>
<path d="M1302 1112Q1309 1114 1317 1117" stroke-width="1.5" opacity="0.72"/>
<path d="M1243 1156Q1258 1162 1273 1167" stroke-width="1.4" opacity="0.53"/>
<path d="M1283 1071Q1294 1076 1305 1080" stroke-width="1.4" opacity="0.41"/>
<path d="M1291 1105Q1310 1112 1330 1117" stroke-width="1.6" opacity="0.54"/>
<path d="M1323 947Q1334 952 1345 956" stroke-width="1.5" opacity="0.48"/>
<path d="M1275 1152Q1294 1158 1313 1162" stroke-width="1.5" opacity="0.88"/>
<path d="M1300 1093Q1308 1096 1315 1098" stroke-width="1.1" opacity="0.39"/>
<path d="M1286 1004Q1304 1014 1322 1022" stroke-width="2.1" opacity="0.39"/>
<path d="M1277 1084Q1288 1089 1299 1093" stroke-width="1.5" opacity="0.75"/>
<path d="M1300 1053Q1318 1061 1337 1067" stroke-width="1.1" opacity="0.89"/>
<path d="M1328 1059Q1344 1064 1359 1067" stroke-width="1.7" opacity="0.69"/>
<path d="M1335 1035Q1346 1039 1358 1042" stroke-width="1.1" opacity="0.78"/>
<path d="M1324 956Q1342 964 1361 970" stroke-width="1.4" opacity="0.42"/>
<path d="M1271 1158Q1291 1164 1310 1169" stroke-width="1.5" opacity="0.62"/>
<path d="M1296 999Q1314 1009 1332 1016" stroke-width="1.5" opacity="0.77"/>
<path d="M1293 1109Q1309 1114 1324 1119" stroke-width="1.5" opacity="0.62"/>
<path d="M1293 1109Q1312 1115 1331 1120" stroke-width="2.2" opacity="0.71"/>
<path d="M1299 1103Q1314 1108 1329 1112" stroke-width="1.8" opacity="0.63"/>
<path d="M1289 1155Q1301 1158 1313 1161" stroke-width="2.0" opacity="0.44"/>
<path d="M1278 1033Q1292 1041 1307 1047" stroke-width="1.2" opacity="0.73"/>
<path d="M1314 1061Q1325 1065 1337 1068" stroke-width="1.9" opacity="0.80"/>
<path d="M1269 1133Q1280 1138 1291 1141" stroke-width="1.7" opacity="0.68"/>
<path d="M1278 1087Q1296 1095 1315 1101" stroke-width="1.6" opacity="0.48"/>
<path d="M1287 1041Q1297 1046 1308 1051" stroke-width="2.0" opacity="0.49"/>
<path d="M1321 968Q1336 975 1351 980" stroke-width="1.4" opacity="0.73"/>
<path d="M1305 1052Q1324 1060 1343 1065" stroke-width="1.7" opacity="0.36"/>
<path d="M1314 1054Q1333 1061 1353 1066" stroke-width="1.2" opacity="0.86"/>
<path d="M1279 1086Q1293 1093 1308 1098" stroke-width="1.8" opacity="0.68"/>
<path d="M1299 1045Q1317 1053 1336 1059" stroke-width="1.9" opacity="0.35"/>
<path d="M1281 1066Q1296 1073 1311 1079" stroke-width="1.4" opacity="0.45"/>
<path d="M1326 1016Q1334 1018 1341 1021" stroke-width="1.0" opacity="0.74"/>
<path d="M1294 1114Q1313 1120 1333 1125" stroke-width="1.7" opacity="0.62"/>
<path d="M1255 1158Q1266 1162 1277 1166" stroke-width="2.1" opacity="0.60"/>
<path d="M1245 1103Q1255 1108 1266 1114" stroke-width="1.0" opacity="0.87"/>
<path d="M1270 1057Q1280 1062 1291 1068" stroke-width="1.5" opacity="0.44"/>
<path d="M1268 1096Q1279 1101 1290 1106" stroke-width="1.0" opacity="0.69"/>
<path d="M1258 1177Q1281 1184 1304 1189" stroke-width="1.9" opacity="0.65"/>
<path d="M1325 1012Q1343 1019 1363 1023" stroke-width="1.9" opacity="0.51"/>
<path d="M1321 1046Q1332 1050 1344 1053" stroke-width="1.4" opacity="0.56"/>
<path d="M1302 1102Q1310 1104 1317 1106" stroke-width="1.1" opacity="0.69"/>
<path d="M1256 1174Q1275 1180 1294 1185" stroke-width="1.1" opacity="0.73"/>
<path d="M1289 1064Q1307 1073 1326 1079" stroke-width="1.5" opacity="0.63"/>
<path d="M1337 1026Q1348 1029 1360 1032" stroke-width="1.3" opacity="0.57"/>
<path d="M1333 965Q1348 971 1363 976" stroke-width="1.7" opacity="0.43"/>
<path d="M1262 1097Q1276 1104 1291 1110" stroke-width="2.2" opacity="0.85"/>
<path d="M1330 995Q1341 999 1352 1003" stroke-width="1.2" opacity="0.81"/>
<path d="M1227 1125Q1245 1134 1263 1142" stroke-width="1.5" opacity="0.67"/>
<path d="M1317 959Q1328 964 1339 969" stroke-width="1.5" opacity="0.63"/>
<path d="M1260 1079Q1274 1086 1289 1093" stroke-width="1.3" opacity="0.51"/>
<path d="M1302 960Q1320 970 1338 978" stroke-width="1.6" opacity="0.72"/>
<path d="M1257 1109Q1275 1117 1294 1124" stroke-width="1.2" opacity="0.83"/>
<path d="M1308 1021Q1315 1024 1323 1027" stroke-width="1.1" opacity="0.82"/>
<path d="M1282 1156Q1305 1163 1329 1167" stroke-width="1.0" opacity="0.39"/>
<path d="M599 977Q615 975 630 972" stroke-width="2.5" opacity="0.69"/>
<path d="M575 950Q587 950 599 949" stroke-width="2.0" opacity="0.50"/>
<path d="M582 966Q590 966 598 966" stroke-width="1.6" opacity="0.42"/>
<path d="M618 939Q630 936 642 933" stroke-width="2.6" opacity="0.47"/>
<path d="M612 871Q627 868 642 862" stroke-width="3.1" opacity="0.81"/>
<path d="M568 886Q580 887 592 887" stroke-width="1.8" opacity="0.37"/>
<path d="M619 863Q626 861 634 859" stroke-width="2.5" opacity="0.47"/>
<path d="M617 945Q625 943 632 941" stroke-width="2.5" opacity="0.46"/>
<path d="M625 897Q644 892 662 884" stroke-width="2.1" opacity="0.84"/>
<path d="M575 908Q587 909 599 908" stroke-width="1.7" opacity="0.77"/>
<path d="M648 877Q662 870 676 862" stroke-width="1.6" opacity="0.47"/>
<path d="M623 950Q634 948 646 944" stroke-width="2.9" opacity="0.33"/>
<path d="M609 936Q625 933 640 929" stroke-width="2.8" opacity="0.47"/>
<path d="M604 881Q616 879 628 876" stroke-width="2.2" opacity="0.46"/>
<path d="M641 896Q652 892 663 887" stroke-width="3.0" opacity="0.71"/>
<path d="M633 970Q641 968 648 966" stroke-width="2.2" opacity="0.55"/>
<path d="M638 953Q646 951 654 948" stroke-width="2.6" opacity="0.81"/>
<path d="M609 938Q625 936 640 931" stroke-width="2.8" opacity="0.76"/>
<path d="M646 928Q657 923 668 918" stroke-width="1.9" opacity="0.42"/>
<path d="M602 925Q618 923 634 919" stroke-width="2.4" opacity="0.64"/>
<path d="M586 955Q602 954 618 951" stroke-width="3.0" opacity="0.81"/>
<path d="M601 980Q609 979 617 978" stroke-width="2.8" opacity="0.65"/>
<path d="M607 954Q623 952 638 947" stroke-width="2.2" opacity="0.68"/>
<path d="M568 926Q584 927 600 925" stroke-width="1.9" opacity="0.80"/>
<path d="M654 909Q661 906 668 903" stroke-width="1.6" opacity="0.33"/>
<path d="M565 895Q581 896 597 895" stroke-width="2.7" opacity="0.58"/>
<path d="M608 960Q624 957 640 953" stroke-width="2.1" opacity="0.30"/>
<path d="M619 925Q631 922 643 918" stroke-width="1.7" opacity="0.43"/>
<path d="M645 903Q656 899 667 893" stroke-width="3.1" opacity="0.64"/>
<path d="M622 980Q642 976 661 970" stroke-width="3.1" opacity="0.45"/>
<path d="M609 937Q617 936 625 934" stroke-width="2.5" opacity="0.73"/>
<path d="M594 930Q610 928 626 925" stroke-width="2.6" opacity="0.53"/>
<path d="M605 959Q617 957 628 955" stroke-width="2.5" opacity="0.47"/>
<path d="M632 904Q648 900 662 893" stroke-width="1.9" opacity="0.34"/>
<path d="M631 894Q642 891 654 886" stroke-width="1.9" opacity="0.79"/>
<path d="M618 963Q630 960 641 957" stroke-width="2.3" opacity="0.56"/>
<path d="M640 865Q651 861 662 855" stroke-width="3.1" opacity="0.58"/>
<path d="M593 996Q609 995 624 992" stroke-width="3.1" opacity="0.42"/>
<path d="M574 872Q594 873 614 870" stroke-width="3.2" opacity="0.61"/>
<path d="M651 905Q662 901 673 895" stroke-width="1.7" opacity="0.39"/>
<path d="M618 960Q626 959 634 957" stroke-width="2.5" opacity="0.31"/>
<path d="M569 938Q589 939 609 936" stroke-width="1.6" opacity="0.66"/>
<path d="M601 930Q613 929 625 926" stroke-width="2.7" opacity="0.72"/>
<path d="M645 908Q656 903 667 898" stroke-width="1.7" opacity="0.40"/>
<path d="M629 936Q645 932 659 926" stroke-width="2.4" opacity="0.75"/>
<path d="M595 930Q603 929 611 928" stroke-width="2.7" opacity="0.59"/>
<path d="M650 875Q657 872 665 868" stroke-width="2.7" opacity="0.71"/>
<path d="M599 884Q611 883 623 880" stroke-width="3.2" opacity="0.42"/>
<path d="M595 905Q607 904 619 902" stroke-width="3.0" opacity="0.57"/>
<path d="M578 885Q598 885 617 881" stroke-width="1.6" opacity="0.60"/>
<path d="M615 940Q635 936 653 929" stroke-width="3.1" opacity="0.61"/>
<path d="M643 935Q654 931 665 926" stroke-width="2.0" opacity="0.68"/>
<path d="M594 969Q606 968 618 966" stroke-width="1.6" opacity="0.50"/>
<path d="M635 905Q642 902 650 899" stroke-width="2.3" opacity="0.33"/>
<path d="M592 980Q608 979 624 977" stroke-width="2.7" opacity="0.52"/>
<path d="M626 983Q641 980 657 975" stroke-width="1.7" opacity="0.52"/>
<path d="M591 940Q599 940 607 939" stroke-width="2.6" opacity="0.68"/>
<path d="M575 985Q591 985 607 983" stroke-width="1.7" opacity="0.45"/>
<path d="M636 952Q648 948 659 944" stroke-width="2.0" opacity="0.44"/>
<path d="M575 877Q591 877 607 875" stroke-width="3.2" opacity="0.64"/>
<path d="M582 979Q598 979 614 977" stroke-width="1.9" opacity="0.31"/>
<path d="M620 879Q632 876 643 872" stroke-width="2.0" opacity="0.37"/>
<path d="M610 915Q621 913 633 909" stroke-width="2.3" opacity="0.82"/>
<path d="M629 868Q644 863 659 856" stroke-width="2.8" opacity="0.36"/>
<path d="M618 932Q626 931 634 929" stroke-width="3.1" opacity="0.62"/>
<path d="M599 904Q611 903 623 900" stroke-width="2.6" opacity="0.62"/>
<path d="M575 932Q595 933 615 930" stroke-width="3.1" opacity="0.66"/>
<path d="M597 940Q613 938 629 935" stroke-width="2.0" opacity="0.79"/>
<path d="M574 925Q586 926 598 925" stroke-width="2.9" opacity="0.41"/>
<path d="M583 933Q599 933 615 930" stroke-width="3.1" opacity="0.35"/>
<path d="M631 927Q647 923 662 916" stroke-width="2.2" opacity="0.75"/>
<path d="M618 911Q626 909 634 907" stroke-width="1.6" opacity="0.39"/>
<path d="M602 876Q618 874 634 869" stroke-width="2.3" opacity="0.71"/>
<path d="M592 933Q608 932 624 929" stroke-width="3.1" opacity="0.65"/>
<path d="M633 943Q653 938 671 929" stroke-width="1.7" opacity="0.46"/>
<path d="M651 925Q662 920 673 915" stroke-width="1.9" opacity="0.60"/>
<path d="M567 889Q583 890 599 889" stroke-width="2.1" opacity="0.32"/>
<path d="M595 899Q607 898 619 896" stroke-width="2.0" opacity="0.48"/>
<path d="M589 942Q605 941 620 939" stroke-width="2.5" opacity="0.80"/>
<path d="M653 877Q660 874 668 870" stroke-width="2.0" opacity="0.35"/>
<path d="M653 882Q664 877 674 871" stroke-width="2.6" opacity="0.52"/>
<path d="M576 889Q588 889 600 888" stroke-width="2.1" opacity="0.30"/>
<path d="M607 991Q623 989 638 985" stroke-width="2.2" opacity="0.58"/>
<path d="M592 924Q604 923 616 921" stroke-width="2.0" opacity="0.68"/>
<path d="M589 979Q609 978 629 974" stroke-width="2.9" opacity="0.45"/>
<path d="M622 961Q630 959 638 957" stroke-width="2.6" opacity="0.46"/>
<path d="M572 934Q588 935 604 933" stroke-width="2.2" opacity="0.50"/>
<path d="M581 973Q593 973 605 971" stroke-width="2.7" opacity="0.80"/>
<path d="M592 928Q604 927 616 925" stroke-width="1.8" opacity="0.33"/>
<path d="M634 922Q650 918 664 911" stroke-width="1.8" opacity="0.56"/>
<path d="M922.6 1243.4L912.0 1261M925.6 1243.2L915.4 1261M928.5 1243.1L918.8 1261M931.5 1242.9L922.2 1261M934.5 1242.7L925.6 1261M937.5 1242.5L929.0 1261M940.5 1242.4L932.4 1261M943.5 1242.2L935.8 1261M946.5 1242.0L939.2 1261M949.5 1242.1L942.6 1261M952.5 1242.3L946.0 1261M955.5 1242.5L949.4 1261M958.5 1242.6L952.8 1261M961.5 1242.8L956.2 1261M964.4 1243.0L959.6 1261M967.4 1243.2L963.0 1261M970.4 1243.3L966.4 1261M973.4 1243.5L969.8 1261" stroke-width="1.3" opacity="0.4"/>
</g>
<g fill="none" stroke="#fff">
<path d="M777 1170Q796 1162 813 1151" stroke-width="1.6" opacity="0.13"/>
<path d="M986 1266Q993 1239 994 1211" stroke-width="1.5" opacity="0.06"/>
<path d="M1034 1202Q1039 1217 1048 1230" stroke-width="2.9" opacity="0.18"/>
<path d="M1020 1112Q1023 1144 1030 1175" stroke-width="2.3" opacity="0.20"/>
<path d="M1017 1146Q1020 1182 1030 1217" stroke-width="2.7" opacity="0.16"/>
<path d="M1146 1161Q1168 1179 1193 1191" stroke-width="2.5" opacity="0.08"/>
<path d="M802 1147Q818 1136 833 1122" stroke-width="1.7" opacity="0.07"/>
<path d="M587 999Q615 998 643 991" stroke-width="2.2" opacity="0.08"/>
<path d="M966 1168Q970 1152 973 1137" stroke-width="2.6" opacity="0.09"/>
<path d="M1068 1134Q1076 1153 1087 1169" stroke-width="1.3" opacity="0.17"/>
<path d="M757 1228Q792 1221 825 1207" stroke-width="1.3" opacity="0.07"/>
<path d="M762 1197Q789 1188 814 1175" stroke-width="2.5" opacity="0.11"/>
<path d="M662 1153Q682 1150 701 1145" stroke-width="1.6" opacity="0.11"/>
<path d="M622 1098Q654 1094 685 1085" stroke-width="1.4" opacity="0.17"/>
<path d="M582 1034Q602 1034 622 1031" stroke-width="1.8" opacity="0.18"/>
<path d="M662 1038Q689 1029 713 1015" stroke-width="2.7" opacity="0.20"/>
<path d="M763 1185Q785 1177 807 1165" stroke-width="1.9" opacity="0.09"/>
<path d="M1183 1145Q1203 1159 1225 1169" stroke-width="2.1" opacity="0.07"/>
<path d="M883 1241Q908 1228 927 1207" stroke-width="2.4" opacity="0.11"/>
<path d="M887 1182Q903 1164 915 1143" stroke-width="1.7" opacity="0.08"/>
<path d="M784 1091Q806 1073 825 1052" stroke-width="1.5" opacity="0.19"/>
<path d="M702 1153Q729 1146 755 1134" stroke-width="2.5" opacity="0.19"/>
<path d="M994 1249Q996 1221 997 1193" stroke-width="2.9" opacity="0.13"/>
<path d="M1167 1127Q1186 1143 1206 1155" stroke-width="1.9" opacity="0.17"/>
<path d="M628 1161Q656 1159 684 1153" stroke-width="1.9" opacity="0.07"/>
<path d="M690 1168Q713 1163 736 1155" stroke-width="1.5" opacity="0.08"/>
<path d="M675 996Q708 982 736 959" stroke-width="1.6" opacity="0.21"/>
<path d="M746 1125Q764 1116 781 1105" stroke-width="2.4" opacity="0.11"/>
<path d="M570 1004Q594 1005 618 1002" stroke-width="1.3" opacity="0.07"/>
<path d="M823 1157Q840 1145 854 1131" stroke-width="2.3" opacity="0.17"/>
<path d="M956 1268Q979 1244 983 1211" stroke-width="2.6" opacity="0.20"/>
<path d="M876 1199Q895 1184 909 1164" stroke-width="1.4" opacity="0.20"/>
<path d="M681 1096Q696 1092 711 1086" stroke-width="2.5" opacity="0.13"/>
<path d="M857 1103Q869 1087 879 1069" stroke-width="2.7" opacity="0.09"/>
<path d="M673 1200Q689 1198 705 1195" stroke-width="2.6" opacity="0.12"/>
<path d="M1008 1093Q1009 1121 1011 1149" stroke-width="1.9" opacity="0.13"/>
<path d="M842 1165Q867 1145 885 1118" stroke-width="1.8" opacity="0.20"/>
<path d="M1259 1122Q1285 1133 1312 1140" stroke-width="2.7" opacity="0.18"/>
<path d="M907 1247Q932 1232 947 1208" stroke-width="2.5" opacity="0.08"/>
<path d="M627 1004Q646 1000 665 993" stroke-width="2.4" opacity="0.17"/>
<path d="M1095 1213Q1116 1230 1143 1241" stroke-width="2.2" opacity="0.09"/>
<path d="M833 1181Q864 1161 886 1132" stroke-width="2.6" opacity="0.09"/>
<path d="M1145 1231Q1164 1238 1183 1243" stroke-width="2.9" opacity="0.20"/>
<path d="M1191 1230Q1206 1235 1222 1238" stroke-width="2.8" opacity="0.19"/>
<path d="M695 1036Q717 1026 736 1012" stroke-width="2.4" opacity="0.17"/>
<path d="M637 1070Q660 1065 683 1057" stroke-width="2.9" opacity="0.14"/>
<path d="M728 1201Q752 1196 774 1187" stroke-width="1.5" opacity="0.18"/>
<path d="M1096 1102Q1110 1131 1132 1154" stroke-width="1.7" opacity="0.18"/>
<path d="M1030 1115Q1033 1135 1038 1154" stroke-width="1.2" opacity="0.14"/>
<path d="M1211 1142Q1243 1160 1278 1170" stroke-width="2.5" opacity="0.12"/>
<path d="M1201 1152Q1222 1164 1244 1172" stroke-width="2.3" opacity="0.09"/>
<path d="M1156 1139Q1183 1163 1216 1178" stroke-width="1.8" opacity="0.11"/>
<path d="M1031 1177Q1037 1204 1052 1228" stroke-width="1.5" opacity="0.17"/>
<path d="M1206 1202Q1232 1212 1259 1218" stroke-width="2.0" opacity="0.07"/>
<path d="M929 1138Q942 1104 950 1069" stroke-width="1.6" opacity="0.18"/>
<path d="M605 1038Q621 1037 637 1034" stroke-width="2.4" opacity="0.12"/>
<path d="M733 1158Q748 1153 762 1146" stroke-width="1.9" opacity="0.11"/>
<path d="M704 1122Q720 1117 734 1110" stroke-width="1.5" opacity="0.12"/>
<path d="M613 998Q629 996 645 992" stroke-width="1.9" opacity="0.16"/>
<path d="M810 1147Q833 1131 852 1110" stroke-width="2.5" opacity="0.07"/>
<path d="M736 1192Q755 1187 774 1179" stroke-width="2.6" opacity="0.19"/>
<path d="M637 1095Q657 1091 676 1086" stroke-width="2.3" opacity="0.12"/>
<path d="M1232 1155Q1247 1162 1262 1167" stroke-width="2.7" opacity="0.07"/>
<path d="M833 1233Q852 1226 869 1216" stroke-width="2.1" opacity="0.14"/>
<path d="M1083 1166Q1092 1179 1103 1191" stroke-width="2.6" opacity="0.19"/>
<path d="M722 1063Q751 1048 775 1027" stroke-width="2.7" opacity="0.06"/>
<path d="M959 1274Q978 1258 983 1234" stroke-width="2.6" opacity="0.20"/>
<path d="M1095 1169Q1105 1181 1117 1192" stroke-width="1.9" opacity="0.09"/>
<path d="M999 1225Q999 1205 999 1185" stroke-width="1.8" opacity="0.17"/>
<path d="M978 1239Q985 1216 987 1192" stroke-width="2.5" opacity="0.07"/>
<path d="M830 1123Q844 1109 857 1094" stroke-width="2.9" opacity="0.17"/>
<path d="M703 1224Q735 1219 766 1211" stroke-width="1.3" opacity="0.08"/>
<path d="M628 1165Q644 1163 660 1161" stroke-width="1.8" opacity="0.09"/>
<path d="M613 1043Q633 1041 652 1036" stroke-width="2.9" opacity="0.21"/>
<path d="M633 1030Q669 1022 701 1006" stroke-width="1.8" opacity="0.10"/>
<path d="M1130 1198Q1143 1207 1157 1214" stroke-width="2.2" opacity="0.11"/>
<path d="M866 1233Q895 1220 917 1195" stroke-width="2.7" opacity="0.20"/>
<path d="M692 1076Q726 1063 756 1042" stroke-width="2.2" opacity="0.07"/>
<path d="M865 1193Q894 1170 912 1139" stroke-width="2.2" opacity="0.14"/>
<path d="M596 1097Q624 1096 651 1090" stroke-width="2.1" opacity="0.16"/>
<path d="M1162 1217Q1188 1228 1215 1234" stroke-width="2.0" opacity="0.17"/>
<path d="M599 994Q615 993 631 990" stroke-width="2.4" opacity="0.06"/>
<path d="M1129 1123Q1147 1145 1169 1162" stroke-width="1.9" opacity="0.10"/>
<path d="M606 1005Q638 1001 668 990" stroke-width="2.0" opacity="0.11"/>
<path d="M759 1132Q780 1121 799 1107" stroke-width="2.1" opacity="0.16"/>
<path d="M667 1173Q687 1170 706 1165" stroke-width="2.0" opacity="0.19"/>
<path d="M858 1181Q886 1159 905 1127" stroke-width="2.8" opacity="0.07"/>
<path d="M776 1096Q799 1080 818 1059" stroke-width="2.3" opacity="0.17"/>
<path d="M1105 1118Q1116 1135 1129 1150" stroke-width="2.5" opacity="0.14"/>
<path d="M771 1087Q791 1073 808 1055" stroke-width="1.9" opacity="0.18"/>
<path d="M1084 1231Q1104 1245 1127 1253" stroke-width="2.1" opacity="0.12"/>
<path d="M834 1244Q868 1233 898 1212" stroke-width="1.9" opacity="0.22"/>
<path d="M680 1200Q696 1197 712 1194" stroke-width="2.8" opacity="0.11"/>
<path d="M1156 1124Q1173 1141 1194 1154" stroke-width="3.0" opacity="0.14"/>
<path d="M767 1055Q786 1040 802 1022" stroke-width="2.6" opacity="0.11"/>
<path d="M984 1133Q986 1105 988 1077" stroke-width="2.9" opacity="0.13"/>
<path d="M678 1125Q694 1121 709 1116" stroke-width="2.1" opacity="0.15"/>
<path d="M679 1035Q701 1026 722 1013" stroke-width="2.7" opacity="0.20"/>
<path d="M1265 1152Q1292 1161 1319 1167" stroke-width="2.2" opacity="0.08"/>
<path d="M791 1098Q804 1088 815 1076" stroke-width="2.1" opacity="0.06"/>
<path d="M1011 1182Q1013 1206 1019 1230" stroke-width="2.5" opacity="0.20"/>
<path d="M745 1159Q775 1147 802 1129" stroke-width="1.6" opacity="0.22"/>
<path d="M987 1291Q999 1261 998 1229" stroke-width="2.8" opacity="0.21"/>
<path d="M902 1129Q910 1115 916 1100" stroke-width="2.9" opacity="0.11"/>
<path d="M662 1044Q677 1039 692 1033" stroke-width="1.5" opacity="0.21"/>
<path d="M662 1182Q678 1179 694 1176" stroke-width="2.7" opacity="0.13"/>
<path d="M1038 1132Q1042 1151 1049 1170" stroke-width="1.5" opacity="0.07"/>
<path d="M693 1108Q708 1103 723 1096" stroke-width="1.3" opacity="0.18"/>
<path d="M744 1159Q763 1152 781 1142" stroke-width="2.3" opacity="0.10"/>
<path d="M777 1195Q803 1185 827 1171" stroke-width="1.5" opacity="0.10"/>
<path d="M651 1156Q675 1152 698 1146" stroke-width="1.7" opacity="0.19"/>
<path d="M657 1171Q673 1168 689 1165" stroke-width="1.5" opacity="0.06"/>
<path d="M1094 1228Q1121 1246 1152 1254" stroke-width="1.3" opacity="0.20"/>
<path d="M808 1192Q833 1179 855 1162" stroke-width="2.6" opacity="0.19"/>
<path d="M1006 1125Q1007 1149 1008 1173" stroke-width="2.7" opacity="0.09"/>
<path d="M673 1158Q709 1151 742 1137" stroke-width="1.5" opacity="0.17"/>
<path d="M1181 1132Q1204 1149 1229 1161" stroke-width="1.5" opacity="0.14"/>
<path d="M885 1264Q912 1256 934 1238" stroke-width="2.5" opacity="0.19"/>
<path d="M707 1205Q727 1201 746 1196" stroke-width="1.5" opacity="0.07"/>
<path d="M935 1136Q942 1117 947 1097" stroke-width="2.9" opacity="0.08"/>
<path d="M800 1243Q835 1234 867 1218" stroke-width="1.4" opacity="0.11"/>
<path d="M1012 1158Q1015 1182 1019 1206" stroke-width="1.5" opacity="0.11"/>
<path d="M1098 1147Q1116 1173 1142 1192" stroke-width="2.2" opacity="0.12"/>
<path d="M1208 1134Q1225 1144 1244 1152" stroke-width="1.4" opacity="0.14"/>
<path d="M860 1235Q882 1225 901 1210" stroke-width="2.1" opacity="0.09"/>
<path d="M938 1169Q951 1139 958 1108" stroke-width="1.4" opacity="0.21"/>
<path d="M734 1219Q762 1214 788 1205" stroke-width="2.4" opacity="0.08"/>
<path d="M804 1189Q819 1182 832 1173" stroke-width="2.3" opacity="0.17"/>
<path d="M1053 1133Q1064 1168 1086 1196" stroke-width="2.3" opacity="0.09"/>
<path d="M807 1197Q821 1190 835 1182" stroke-width="2.5" opacity="0.06"/>
<path d="M628 1032Q656 1027 682 1017" stroke-width="2.1" opacity="0.21"/>
<path d="M1174 1214Q1188 1220 1204 1225" stroke-width="2.4" opacity="0.07"/>
<path d="M615 1108Q643 1105 670 1098" stroke-width="1.5" opacity="0.08"/>
<path d="M571 1060Q607 1061 643 1054" stroke-width="1.5" opacity="0.14"/>
<path d="M1026 1120Q1030 1147 1037 1174" stroke-width="1.9" opacity="0.10"/>
<path d="M1034 1159Q1041 1187 1054 1212" stroke-width="2.2" opacity="0.07"/>
<path d="M884 1107Q895 1090 903 1071" stroke-width="1.9" opacity="0.12"/>
<path d="M1006 1139Q1007 1171 1009 1203" stroke-width="2.4" opacity="0.07"/>
<path d="M1185 1179Q1203 1188 1222 1195" stroke-width="2.8" opacity="0.20"/>
<path d="M690 992Q704 985 717 976" stroke-width="2.7" opacity="0.07"/>
<path d="M922 1147Q934 1122 942 1095" stroke-width="1.8" opacity="0.18"/>
<path d="M917 1201Q934 1179 945 1153" stroke-width="2.0" opacity="0.22"/>
<path d="M617 1108Q641 1106 664 1101" stroke-width="2.9" opacity="0.21"/>
<path d="M882 1267Q914 1259 939 1238" stroke-width="2.0" opacity="0.16"/>
<path d="M1108 1158Q1123 1176 1143 1191" stroke-width="2.3" opacity="0.16"/>
<path d="M966 1128Q970 1108 972 1089" stroke-width="2.9" opacity="0.19"/>
<path d="M1250 1145Q1264 1151 1280 1156" stroke-width="1.8" opacity="0.15"/>
<path d="M1046 1215Q1056 1233 1072 1246" stroke-width="1.9" opacity="0.21"/>
<path d="M647 1041Q662 1037 677 1032" stroke-width="2.9" opacity="0.11"/>
<path d="M623 1087Q647 1084 670 1078" stroke-width="2.8" opacity="0.09"/>
<path d="M948 1139Q958 1104 964 1069" stroke-width="2.6" opacity="0.13"/>
<path d="M756 1221Q780 1216 802 1207" stroke-width="1.5" opacity="0.14"/>
<path d="M1216 1153Q1231 1160 1246 1166" stroke-width="1.9" opacity="0.19"/>
<path d="M659 1171Q695 1165 729 1154" stroke-width="2.1" opacity="0.13"/>
<path d="M801 1073Q812 1062 823 1050" stroke-width="2.8" opacity="0.21"/>
<path d="M821 1228Q844 1220 864 1208" stroke-width="1.9" opacity="0.08"/>
<path d="M731 1156Q754 1148 775 1137" stroke-width="2.6" opacity="0.17"/>
<path d="M1026 1076Q1030 1108 1036 1139" stroke-width="1.8" opacity="0.09"/>
<path d="M770 1197Q785 1191 800 1185" stroke-width="1.6" opacity="0.18"/>
<path d="M939 1229Q959 1203 966 1171" stroke-width="2.1" opacity="0.08"/>
<path d="M677 1139Q696 1134 715 1128" stroke-width="1.9" opacity="0.22"/>
<path d="M1086 1192Q1104 1213 1129 1227" stroke-width="2.3" opacity="0.12"/>
<path d="M1192 1157Q1216 1172 1242 1181" stroke-width="1.4" opacity="0.19"/>
<path d="M1166 1126Q1181 1140 1198 1150" stroke-width="2.2" opacity="0.10"/>
<path d="M1082 1112Q1094 1138 1111 1160" stroke-width="2.1" opacity="0.08"/>
<path d="M824 1087Q843 1066 858 1042" stroke-width="2.6" opacity="0.10"/>
<path d="M794 1154Q822 1138 844 1115" stroke-width="2.1" opacity="0.21"/>
<path d="M923 1117Q932 1094 938 1071" stroke-width="1.6" opacity="0.07"/>
<path d="M998 1222Q998 1198 999 1174" stroke-width="1.9" opacity="0.12"/>
<path d="M661 1012Q691 1002 718 984" stroke-width="1.3" opacity="0.10"/>
<path d="M785 1207Q815 1196 842 1179" stroke-width="2.8" opacity="0.17"/>
<path d="M913 1258Q934 1248 950 1228" stroke-width="1.9" opacity="0.08"/>
<path d="M1042 1210Q1053 1231 1072 1247" stroke-width="2.6" opacity="0.18"/>
<path d="M1017 1174Q1019 1189 1022 1205" stroke-width="2.7" opacity="0.06"/>
<path d="M871 1114Q885 1094 896 1073" stroke-width="2.2" opacity="0.18"/>
<path d="M763 1097Q784 1084 801 1068" stroke-width="2.3" opacity="0.20"/>
<path d="M1144 1139Q1158 1153 1175 1164" stroke-width="1.4" opacity="0.21"/>
<path d="M822 1095Q836 1081 848 1065" stroke-width="2.6" opacity="0.10"/>
<path d="M1110 1234Q1135 1247 1163 1254" stroke-width="1.5" opacity="0.15"/>
<path d="M653 1087Q669 1083 684 1079" stroke-width="2.0" opacity="0.17"/>
<path d="M733 1085Q750 1075 767 1064" stroke-width="1.6" opacity="0.22"/>
<path d="M1207 1182Q1222 1188 1237 1193" stroke-width="2.3" opacity="0.15"/>
<path d="M1012 1229Q1015 1245 1021 1260" stroke-width="1.7" opacity="0.14"/>
<path d="M682 1172Q702 1168 721 1163" stroke-width="1.2" opacity="0.10"/>
<path d="M940 1253Q961 1233 970 1206" stroke-width="2.0" opacity="0.19"/>
<path d="M1079 1214Q1099 1234 1125 1245" stroke-width="2.9" opacity="0.15"/>
<path d="M699 1062Q721 1052 741 1039" stroke-width="2.1" opacity="0.22"/>
<path d="M1013 1166Q1016 1194 1023 1222" stroke-width="2.0" opacity="0.17"/>
<path d="M749 1201Q768 1196 787 1188" stroke-width="1.5" opacity="0.14"/>
<path d="M1205 1129Q1226 1142 1248 1151" stroke-width="2.3" opacity="0.06"/>
<path d="M857 1135Q876 1114 890 1090" stroke-width="2.9" opacity="0.21"/>
<path d="M948 1132Q956 1105 961 1077" stroke-width="1.7" opacity="0.16"/>
<path d="M809 1097Q827 1081 842 1062" stroke-width="2.8" opacity="0.19"/>
<path d="M764 1177Q779 1171 793 1164" stroke-width="2.0" opacity="0.18"/>
<path d="M938 1143Q946 1120 952 1097" stroke-width="2.4" opacity="0.07"/>
<path d="M893 1132Q910 1104 921 1074" stroke-width="2.0" opacity="0.15"/>
<path d="M905 1182Q917 1167 927 1149" stroke-width="1.4" opacity="0.12"/>
<path d="M1116 1242Q1134 1250 1154 1256" stroke-width="1.7" opacity="0.22"/>
<path d="M1254 1154Q1273 1161 1292 1166" stroke-width="2.6" opacity="0.15"/>
<path d="M641 1014Q676 1005 707 987" stroke-width="1.9" opacity="0.15"/>
<path d="M1100 1155Q1115 1175 1133 1190" stroke-width="1.7" opacity="0.10"/>
<path d="M805 1190Q837 1174 864 1149" stroke-width="1.9" opacity="0.13"/>
<path d="M1165 1226Q1180 1232 1196 1236" stroke-width="1.9" opacity="0.10"/>
<path d="M1010 1212Q1013 1241 1025 1266" stroke-width="2.3" opacity="0.15"/>
<path d="M759 1193Q786 1184 810 1171" stroke-width="1.4" opacity="0.16"/>
<path d="M668 1203Q700 1199 731 1192" stroke-width="2.8" opacity="0.16"/>
<path d="M1096 1200Q1114 1216 1135 1228" stroke-width="2.3" opacity="0.14"/>
<path d="M1246 1148Q1268 1157 1292 1163" stroke-width="1.3" opacity="0.09"/>
<path d="M742 1116Q774 1100 801 1076" stroke-width="2.5" opacity="0.08"/>
<path d="M688 1084Q710 1076 731 1064" stroke-width="2.7" opacity="0.18"/>
<path d="M844 1240Q874 1230 900 1210" stroke-width="2.0" opacity="0.16"/>
<path d="M1142 1187Q1168 1205 1199 1216" stroke-width="2.0" opacity="0.16"/>
<path d="M1121 1132Q1138 1154 1161 1171" stroke-width="1.4" opacity="0.18"/>
<path d="M709 1111Q728 1104 745 1094" stroke-width="2.5" opacity="0.14"/>
<path d="M1120 1143Q1133 1158 1148 1171" stroke-width="1.7" opacity="0.13"/>
<path d="M643 1098Q678 1092 711 1077" stroke-width="1.4" opacity="0.07"/>
<path d="M857 1132Q867 1121 877 1108" stroke-width="2.2" opacity="0.14"/>
<path d="M695 1036Q717 1025 737 1012" stroke-width="2.6" opacity="0.17"/>
<path d="M1106 1154Q1116 1166 1127 1177" stroke-width="2.7" opacity="0.07"/>
<path d="M680 1119Q696 1115 711 1109" stroke-width="2.6" opacity="0.16"/>
<path d="M699 1203Q734 1197 769 1185" stroke-width="1.3" opacity="0.16"/>
<path d="M985 1172Q988 1140 990 1108" stroke-width="1.6" opacity="0.20"/>
<path d="M973 1246Q986 1212 988 1176" stroke-width="1.6" opacity="0.09"/>
<path d="M1064 1136Q1073 1158 1087 1178" stroke-width="2.8" opacity="0.08"/>
<path d="M1219 1177Q1248 1189 1280 1196" stroke-width="2.8" opacity="0.18"/>
<path d="M674 1172Q706 1167 736 1156" stroke-width="2.9" opacity="0.20"/>
<path d="M695 1121Q710 1116 725 1110" stroke-width="1.9" opacity="0.17"/>
<path d="M878 1248Q904 1237 924 1217" stroke-width="1.2" opacity="0.11"/>
<path d="M892 1118Q908 1091 919 1060" stroke-width="2.5" opacity="0.18"/>
<path d="M972 1173Q975 1157 978 1141" stroke-width="1.8" opacity="0.06"/>
<path d="M753 1250Q785 1245 815 1237" stroke-width="2.4" opacity="0.19"/>
<path d="M653 1034Q684 1025 712 1009" stroke-width="2.6" opacity="0.16"/>
<path d="M999 1166Q999 1150 999 1134" stroke-width="2.9" opacity="0.16"/>
<path d="M627 1104Q659 1100 690 1090" stroke-width="1.6" opacity="0.17"/>
<path d="M827 1237Q858 1227 884 1209" stroke-width="1.2" opacity="0.09"/>
<path d="M911 1151Q925 1126 934 1100" stroke-width="1.6" opacity="0.16"/>
<path d="M714 1028Q731 1018 747 1006" stroke-width="2.9" opacity="0.17"/>
<path d="M796 1202Q822 1192 846 1176" stroke-width="2.1" opacity="0.07"/>
<path d="M703 1167Q730 1161 756 1150" stroke-width="2.5" opacity="0.15"/>
<path d="M815 1159Q835 1145 852 1128" stroke-width="2.3" opacity="0.06"/>
</g>
<g filter="url(#b8)">
<path d="M1268.0 930.0C1275.3 923.8 1309.2 940.5 1316.0 948.0C1322.8 955.5 1311.3 965.7 1309.0 975.0C1306.7 984.3 1305.5 992.8 1302.0 1004.0C1298.5 1015.2 1292.5 1030.3 1288.0 1042.0C1283.5 1053.7 1279.7 1065.5 1275.0 1074.0C1270.3 1082.5 1264.8 1087.5 1260.0 1093.0C1255.2 1098.5 1249.3 1102.2 1246.0 1107.0C1242.7 1111.8 1244.0 1118.2 1240.0 1122.0C1236.0 1125.8 1228.7 1130.7 1222.0 1130.0C1215.3 1129.3 1205.0 1123.8 1200.0 1118.0C1195.0 1112.2 1191.2 1102.2 1192.0 1095.0C1192.8 1087.8 1197.8 1080.8 1205.0 1075.0C1212.2 1069.2 1225.5 1067.5 1235.0 1060.0C1244.5 1052.5 1255.8 1042.5 1262.0 1030.0C1268.2 1017.5 1271.0 1001.7 1272.0 985.0C1273.0 968.3 1260.7 936.2 1268.0 930.0Z" fill="#000"/>
</g>
</g>
</g>

<clipPath id="cs"><rect x="163.5" y="767.2" width="1673.4" height="533.8"/></clipPath>
<g clip-path="url(#cs)" stroke="#fff" stroke-width="3" stroke-dasharray="3 8.03" fill="none">
<path d="M163.70 820.58H1838.5"/>
<path d="M163.70 873.96H1838.5"/>
<path d="M163.70 927.34H1838.5"/>
<path d="M163.70 980.72H1838.5"/>
<path d="M163.70 1034.10H1838.5"/>
<path d="M163.70 1087.48H1838.5"/>
<path d="M163.70 1140.86H1838.5"/>
<path d="M163.70 1194.24H1838.5"/>
<path d="M163.70 1247.62H1838.5"/>
<path d="M164.10 769.20V1303.0"/>
<path d="M233.21 769.20V1303.0"/>
<path d="M302.92 769.20V1303.0"/>
<path d="M372.62 769.20V1303.0"/>
<path d="M442.33 769.20V1303.0"/>
<path d="M512.04 769.20V1303.0"/>
<path d="M581.75 769.20V1303.0"/>
<path d="M651.46 769.20V1303.0"/>
<path d="M721.17 769.20V1303.0"/>
<path d="M790.88 769.20V1303.0"/>
<path d="M860.58 769.20V1303.0"/>
<path d="M930.29 769.20V1303.0"/>
<path d="M1069.71 769.20V1303.0"/>
<path d="M1139.42 769.20V1303.0"/>
<path d="M1209.12 769.20V1303.0"/>
<path d="M1278.83 769.20V1303.0"/>
<path d="M1348.54 769.20V1303.0"/>
<path d="M1418.25 769.20V1303.0"/>
<path d="M1487.96 769.20V1303.0"/>
<path d="M1557.67 769.20V1303.0"/>
<path d="M1627.38 769.20V1303.0"/>
<path d="M1697.08 769.20V1303.0"/>
<path d="M1766.79 769.20V1303.0"/>
<path d="M1836.50 769.20V1303.0"/>
</g>
<rect x="998" y="767.2" width="4.2" height="533.8" fill="#dd3f0c"/>
<g stroke="#000" stroke-width="1.15" fill="none">
<path d="M138.4 767.20H164.0"/>
<path d="M151.2 777.88H164.0"/>
<path d="M151.2 788.55H164.0"/>
<path d="M151.2 799.23H164.0"/>
<path d="M151.2 809.90H164.0"/>
<path d="M151.2 820.58H164.0"/>
<path d="M151.2 831.26H164.0"/>
<path d="M151.2 841.93H164.0"/>
<path d="M151.2 852.61H164.0"/>
<path d="M151.2 863.28H164.0"/>
<path d="M138.4 873.96H164.0"/>
<path d="M151.2 884.64H164.0"/>
<path d="M151.2 895.31H164.0"/>
<path d="M151.2 905.99H164.0"/>
<path d="M151.2 916.66H164.0"/>
<path d="M151.2 927.34H164.0"/>
<path d="M151.2 938.02H164.0"/>
<path d="M151.2 948.69H164.0"/>
<path d="M151.2 959.37H164.0"/>
<path d="M151.2 970.04H164.0"/>
<path d="M138.4 980.72H164.0"/>
<path d="M151.2 991.40H164.0"/>
<path d="M151.2 1002.07H164.0"/>
<path d="M151.2 1012.75H164.0"/>
<path d="M151.2 1023.42H164.0"/>
<path d="M151.2 1034.10H164.0"/>
<path d="M151.2 1044.78H164.0"/>
<path d="M151.2 1055.45H164.0"/>
<path d="M151.2 1066.13H164.0"/>
<path d="M151.2 1076.80H164.0"/>
<path d="M138.4 1087.48H164.0"/>
<path d="M151.2 1098.16H164.0"/>
<path d="M151.2 1108.83H164.0"/>
<path d="M151.2 1119.51H164.0"/>
<path d="M151.2 1130.18H164.0"/>
<path d="M151.2 1140.86H164.0"/>
<path d="M151.2 1151.54H164.0"/>
<path d="M151.2 1162.21H164.0"/>
<path d="M151.2 1172.89H164.0"/>
<path d="M151.2 1183.56H164.0"/>
<path d="M138.4 1194.24H164.0"/>
<path d="M151.2 1204.92H164.0"/>
<path d="M151.2 1215.59H164.0"/>
<path d="M151.2 1226.27H164.0"/>
<path d="M151.2 1236.94H164.0"/>
<path d="M151.2 1247.62H164.0"/>
<path d="M151.2 1258.30H164.0"/>
<path d="M151.2 1268.97H164.0"/>
<path d="M151.2 1279.65H164.0"/>
<path d="M151.2 1290.32H164.0"/>
<path d="M138.4 1301.00H164.0"/>
<path d="M163.50 1300.70V1308.50"/>
<path d="M233.21 1300.70V1304.70"/>
<path d="M302.92 1300.70V1304.70"/>
<path d="M372.62 1300.70V1308.50"/>
<path d="M442.33 1300.70V1304.70"/>
<path d="M512.04 1300.70V1304.70"/>
<path d="M581.75 1300.70V1308.50"/>
<path d="M651.46 1300.70V1304.70"/>
<path d="M721.17 1300.70V1304.70"/>
<path d="M790.88 1300.70V1308.50"/>
<path d="M860.58 1300.70V1304.70"/>
<path d="M930.29 1300.70V1304.70"/>
<path d="M1000.00 1300.70V1308.50"/>
<path d="M1069.71 1300.70V1304.70"/>
<path d="M1139.42 1300.70V1304.70"/>
<path d="M1209.12 1300.70V1308.50"/>
<path d="M1278.83 1300.70V1304.70"/>
<path d="M1348.54 1300.70V1304.70"/>
<path d="M1418.25 1300.70V1308.50"/>
<path d="M1487.96 1300.70V1304.70"/>
<path d="M1557.67 1300.70V1304.70"/>
<path d="M1627.38 1300.70V1308.50"/>
<path d="M1697.08 1300.70V1304.70"/>
<path d="M1766.79 1300.70V1304.70"/>
<path d="M1836.50 1300.70V1308.50"/>
</g>
<text x="129.3" y="789.70" font-size="37.4" text-anchor="end">-40</text>
<text x="129.3" y="886.56" font-size="37.4" text-anchor="end">-50</text>
<text x="129.3" y="993.32" font-size="37.4" text-anchor="end">-60</text>
<text x="129.3" y="1100.08" font-size="37.4" text-anchor="end">-70</text>
<text x="129.3" y="1206.84" font-size="37.4" text-anchor="end">-80</text>
<text x="129.3" y="1300.60" font-size="37.4" text-anchor="end">-90</text>
<text x="164.00" y="1355.40" font-size="37.4" text-anchor="middle">0</text>
<text x="373.12" y="1355.40" font-size="37.4" text-anchor="middle">3</text>
<text x="582.25" y="1355.40" font-size="37.4" text-anchor="middle">6</text>
<text x="791.38" y="1355.40" font-size="37.4" text-anchor="middle">9</text>
<text x="1000.50" y="1355.40" font-size="37.4" text-anchor="middle">12</text>
<text x="1209.62" y="1355.40" font-size="37.4" text-anchor="middle">15</text>
<text x="1418.75" y="1355.40" font-size="37.4" text-anchor="middle">18</text>
<text x="1627.88" y="1355.40" font-size="37.4" text-anchor="middle">21</text>
<text x="1837.00" y="1355.40" font-size="37.4" text-anchor="middle">24</text>
<text x="1000" y="1394.60" font-size="37.1" text-anchor="middle">Local Time (hours)</text>
<text transform="translate(59.5 1033.60) rotate(-90)" font-size="36.4" text-anchor="middle">Latitude (<tspan font-size="28" dy="-6.5">&#176;</tspan><tspan dy="6.5">)</tspan></text>
<rect x="1851" y="1090.2" width="38.2" height="209.3" fill="url(#cbar)" stroke="#000" stroke-width="2.2"/>
<g stroke="#000" stroke-width="1.4">
<path d="M1851 1160.0h4.5M1889.2 1160.0h-4.5"/>
<path d="M1851 1230.0h4.5M1889.2 1230.0h-4.5"/>
<path d="M1851 1278.9h1.7M1889.2 1278.9h-1.7" stroke-width="0.8"/>
<path d="M1851 1266.6h1.7M1889.2 1266.6h-1.7" stroke-width="0.8"/>
<path d="M1851 1257.9h1.7M1889.2 1257.9h-1.7" stroke-width="0.8"/>
<path d="M1851 1251.1h1.7M1889.2 1251.1h-1.7" stroke-width="0.8"/>
<path d="M1851 1245.5h1.7M1889.2 1245.5h-1.7" stroke-width="0.8"/>
<path d="M1851 1240.8h1.7M1889.2 1240.8h-1.7" stroke-width="0.8"/>
<path d="M1851 1236.8h1.7M1889.2 1236.8h-1.7" stroke-width="0.8"/>
<path d="M1851 1233.2h1.7M1889.2 1233.2h-1.7" stroke-width="0.8"/>
<path d="M1851 1208.9h1.7M1889.2 1208.9h-1.7" stroke-width="0.8"/>
<path d="M1851 1196.6h1.7M1889.2 1196.6h-1.7" stroke-width="0.8"/>
<path d="M1851 1187.9h1.7M1889.2 1187.9h-1.7" stroke-width="0.8"/>
<path d="M1851 1181.1h1.7M1889.2 1181.1h-1.7" stroke-width="0.8"/>
<path d="M1851 1175.5h1.7M1889.2 1175.5h-1.7" stroke-width="0.8"/>
<path d="M1851 1170.8h1.7M1889.2 1170.8h-1.7" stroke-width="0.8"/>
<path d="M1851 1166.8h1.7M1889.2 1166.8h-1.7" stroke-width="0.8"/>
<path d="M1851 1163.2h1.7M1889.2 1163.2h-1.7" stroke-width="0.8"/>
<path d="M1851 1138.9h1.7M1889.2 1138.9h-1.7" stroke-width="0.8"/>
<path d="M1851 1126.6h1.7M1889.2 1126.6h-1.7" stroke-width="0.8"/>
<path d="M1851 1117.9h1.7M1889.2 1117.9h-1.7" stroke-width="0.8"/>
<path d="M1851 1111.1h1.7M1889.2 1111.1h-1.7" stroke-width="0.8"/>
<path d="M1851 1105.5h1.7M1889.2 1105.5h-1.7" stroke-width="0.8"/>
<path d="M1851 1100.8h1.7M1889.2 1100.8h-1.7" stroke-width="0.8"/>
<path d="M1851 1096.8h1.7M1889.2 1096.8h-1.7" stroke-width="0.8"/>
<path d="M1851 1093.2h1.7M1889.2 1093.2h-1.7" stroke-width="0.8"/>
<path d="M1857.4 1091v1.7" stroke-width="1"/>
<path d="M1866.0 1091v1.7" stroke-width="1"/>
<path d="M1874.3 1091v1.7" stroke-width="1"/>
<path d="M1882.5 1091v1.7" stroke-width="1"/>
</g>
<text x="1837.6" y="1077.4" font-size="28.7">kR H<tspan font-size="10.5" dx="1.2" dy="4">2</tspan></text>
<text x="1898" y="1106.6" font-size="29.2">1000</text>
<text x="1898" y="1169.8" font-size="29.2">100</text>
<text x="1898" y="1240.2" font-size="29.2">10</text>
<text x="1898" y="1299.4" font-size="29.2">1</text>
</svg>
</body></html>
